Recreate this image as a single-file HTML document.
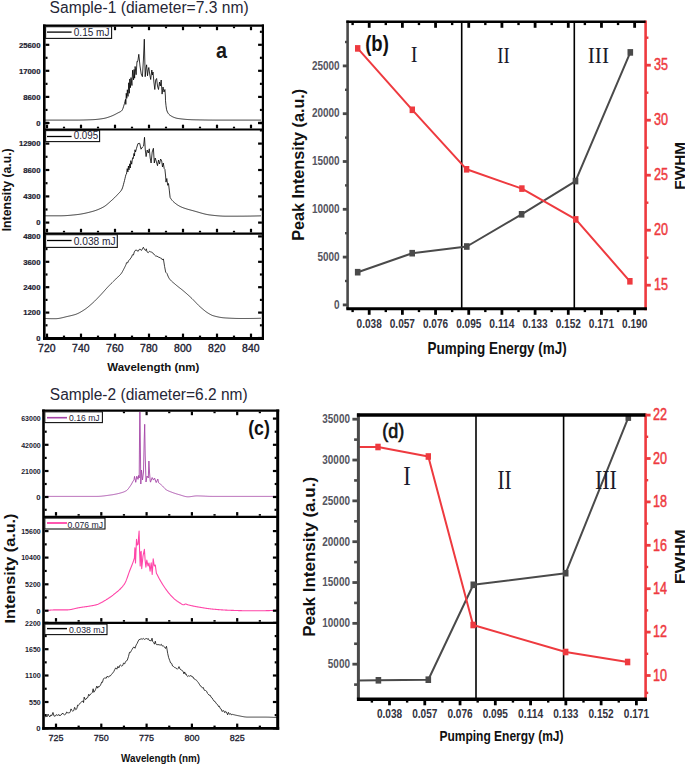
<!DOCTYPE html>
<html><head><meta charset="utf-8"><style>
html,body{margin:0;padding:0;background:#fff;}
body{width:685px;height:764px;overflow:hidden;font-family:"Liberation Sans",sans-serif;}
svg{display:block;}
</style></head><body>
<svg width="685" height="764" viewBox="0 0 685 764">
<rect width="685" height="764" fill="#fff"/>
<defs><clipPath id="ca1"><rect x="45" y="26" width="216" height="102"/></clipPath><clipPath id="ca2"><rect x="45" y="130" width="216" height="102"/></clipPath><clipPath id="ca3"><rect x="45" y="234" width="216" height="103"/></clipPath><clipPath id="cc1"><rect x="45" y="412" width="232" height="104"/></clipPath><clipPath id="cc2"><rect x="45" y="517" width="232" height="105"/></clipPath><clipPath id="cc3"><rect x="45" y="624" width="232" height="103"/></clipPath><clipPath id="cb"><rect x="349" y="23" width="295" height="284"/></clipPath><clipPath id="cd"><rect x="359.5" y="416" width="286" height="281"/></clipPath></defs>
<text x="49.60" y="12.60" font-size="16" fill="#262636" font-weight="normal" text-anchor="start" font-family="Liberation Sans, sans-serif" textLength="199.00" lengthAdjust="spacingAndGlyphs" >Sample-1 (diameter=7.3 nm)</text>
<text x="49.80" y="400.20" font-size="16" fill="#262636" font-weight="normal" text-anchor="start" font-family="Liberation Sans, sans-serif" textLength="197.80" lengthAdjust="spacingAndGlyphs" >Sample-2 (diameter=6.2 nm)</text>
<polyline points="45.00,120.10 45.50,120.10 46.00,120.10 46.50,120.10 47.00,120.10 47.50,120.10 48.00,120.10 48.50,120.10 49.00,120.10 49.50,120.10 50.00,120.10 50.50,120.10 51.00,120.10 51.50,120.10 52.00,120.10 52.50,120.10 53.00,120.10 53.50,120.10 54.00,120.10 54.50,120.10 55.00,120.10 55.50,120.10 56.00,120.10 56.50,120.10 57.00,120.10 57.50,120.10 58.00,120.10 58.50,120.10 59.00,120.10 59.50,120.10 60.00,120.10 60.50,120.10 61.00,120.10 61.50,120.10 62.00,120.10 62.50,120.10 63.00,120.10 63.50,120.10 64.00,120.10 64.50,120.10 65.00,120.10 65.50,120.10 66.00,120.10 66.50,120.10 67.00,120.10 67.50,120.10 68.00,120.10 68.50,120.10 69.00,120.10 69.50,120.10 70.00,120.10 70.50,120.10 71.00,120.10 71.50,120.10 72.00,120.10 72.50,120.10 73.00,120.10 73.50,120.10 74.00,120.10 74.50,120.10 75.00,120.10 75.50,120.10 76.00,120.10 76.50,120.10 77.00,120.10 77.50,120.10 78.00,120.09 78.50,120.09 79.00,120.08 79.50,120.08 80.00,120.07 80.50,120.06 81.00,120.05 81.50,120.04 82.00,120.03 82.50,120.02 83.00,120.01 83.50,120.00 84.00,119.99 84.50,119.97 85.00,119.96 85.50,119.94 86.00,119.93 86.50,119.91 87.00,119.90 87.50,119.88 88.00,119.86 88.50,119.84 89.00,119.83 89.50,119.81 90.00,119.79 90.50,119.77 91.00,119.75 91.50,119.73 92.00,119.71 92.50,119.69 93.00,119.66 93.50,119.63 94.00,119.60 94.50,119.57 95.00,119.53 95.50,119.49 96.00,119.45 96.50,119.40 97.00,119.35 97.50,119.30 98.00,119.25 98.50,119.19 99.00,119.13 99.50,119.07 100.00,119.00 100.50,118.93 101.00,118.87 101.50,118.79 102.00,118.72 102.50,118.64 103.00,118.56 103.50,118.48 104.00,118.39 104.50,118.29 105.00,118.18 105.50,118.06 106.00,117.93 106.50,117.79 107.00,117.64 107.50,117.48 108.00,117.32 108.50,117.15 109.00,116.98 109.50,116.80 110.00,116.62 110.50,116.44 111.00,116.25 111.50,116.06 112.00,115.86 112.50,115.65 113.00,115.43 113.50,115.20 114.00,114.96 114.50,114.71 115.00,114.46 115.50,114.20 116.00,113.93 116.50,113.66 117.00,113.39 117.50,113.12 118.00,112.85 118.50,112.60 119.00,112.37 119.50,112.14 120.00,111.89 120.50,111.61 121.00,111.28 121.50,110.88 122.00,110.39 122.50,109.52 123.00,108.25 123.50,106.73 124.00,105.08 124.50,103.40 125.00,101.35 125.50,99.35 125.80,104.40 126.25,93.27 126.79,98.37 127.35,89.78 128.04,96.40 128.74,82.76 129.31,93.28 129.78,78.98 130.48,87.67 131.01,77.60 131.94,85.50 132.58,70.19 133.56,79.87 134.06,69.46 134.61,78.18 135.12,66.48 136.14,74.73 137.01,61.28 137.50,61.73 138.00,60.00 138.80,54.30 140.00,66.00 141.20,74.00 142.40,76.70 143.40,60.00 144.30,39.20 145.20,76.70 146.00,68.00 146.60,64.80 147.50,75.80 148.20,70.00 148.80,67.50 149.70,74.00 150.70,79.50 151.80,70.00 152.40,75.00 153.00,72.00 153.90,82.00 154.80,89.50 155.70,80.00 156.60,78.50 157.50,86.00 158.50,89.50 159.50,82.00 160.30,86.00 161.20,80.00 162.10,94.10 163.00,87.00 164.00,92.00 164.90,89.50 165.40,96.00 165.50,100.77 166.00,105.70 166.50,109.20 167.00,111.01 167.50,112.14 168.00,113.05 168.50,113.79 169.00,114.38 169.50,114.85 170.00,115.23 170.50,115.57 171.00,115.88 171.50,116.18 172.00,116.46 172.50,116.72 173.00,116.96 173.50,117.19 174.00,117.40 174.50,117.59 175.00,117.76 175.50,117.92 176.00,118.06 176.50,118.19 177.00,118.30 177.50,118.40 178.00,118.49 178.50,118.56 179.00,118.63 179.50,118.70 180.00,118.76 180.50,118.82 181.00,118.89 181.50,118.95 182.00,119.00 182.50,119.06 183.00,119.11 183.50,119.16 184.00,119.21 184.50,119.26 185.00,119.30 185.50,119.35 186.00,119.39 186.50,119.43 187.00,119.46 187.50,119.50 188.00,119.53 188.50,119.57 189.00,119.60 189.50,119.62 190.00,119.65 190.50,119.67 191.00,119.70 191.50,119.72 192.00,119.74 192.50,119.76 193.00,119.77 193.50,119.79 194.00,119.80 194.50,119.81 195.00,119.82 195.50,119.83 196.00,119.84 196.50,119.85 197.00,119.86 197.50,119.87 198.00,119.88 198.50,119.89 199.00,119.90 199.50,119.91 200.00,119.92 200.50,119.93 201.00,119.94 201.50,119.95 202.00,119.96 202.50,119.96 203.00,119.97 203.50,119.98 204.00,119.99 204.50,120.00 205.00,120.00 205.50,120.01 206.00,120.02 206.50,120.02 207.00,120.03 207.50,120.04 208.00,120.04 208.50,120.05 209.00,120.05 209.50,120.06 210.00,120.06 210.50,120.07 211.00,120.07 211.50,120.07 212.00,120.08 212.50,120.08 213.00,120.08 213.50,120.09 214.00,120.09 214.50,120.09 215.00,120.09 215.50,120.10 216.00,120.10 216.50,120.10 217.00,120.10 217.50,120.10 218.00,120.10 218.50,120.10 219.00,120.10 219.50,120.10 220.00,120.10 220.50,120.10 221.00,120.10 221.50,120.10 222.00,120.10 222.50,120.10 223.00,120.10 223.50,120.10 224.00,120.10 224.50,120.10 225.00,120.10 225.50,120.10 226.00,120.10 226.50,120.10 227.00,120.10 227.50,120.10 228.00,120.10 228.50,120.10 229.00,120.10 229.50,120.10 230.00,120.10 230.50,120.10 231.00,120.10 231.50,120.10 232.00,120.10 232.50,120.10 233.00,120.10 233.50,120.10 234.00,120.10 234.50,120.10 235.00,120.10 235.50,120.10 236.00,120.10 236.50,120.10 237.00,120.10 237.50,120.10 238.00,120.10 238.50,120.10 239.00,120.10 239.50,120.10 240.00,120.10 240.50,120.10 241.00,120.10 241.50,120.10 242.00,120.10 242.50,120.10 243.00,120.10 243.50,120.10 244.00,120.10 244.50,120.10 245.00,120.10 245.50,120.10 246.00,120.10 246.50,120.10 247.00,120.10 247.50,120.10 248.00,120.10 248.50,120.10 249.00,120.10 249.50,120.10 250.00,120.10 250.50,120.10 251.00,120.10 251.50,120.10 252.00,120.10 252.50,120.10 253.00,120.10 253.50,120.10 254.00,120.10 254.50,120.10 255.00,120.10 255.50,120.10 256.00,120.10 256.50,120.10 257.00,120.10 257.50,120.10 258.00,120.10 258.50,120.10 259.00,120.10 259.50,120.10 260.00,120.10 260.50,120.10 261.00,120.10 261.50,120.10 262.00,120.10" fill="none" stroke="#000" stroke-width="0.8" stroke-linejoin="round" clip-path="url(#ca1)"/>
<polyline points="45.00,215.80 45.50,215.80 46.00,215.80 46.50,215.80 47.00,215.80 47.50,215.80 48.00,215.80 48.50,215.80 49.00,215.80 49.50,215.80 50.00,215.80 50.50,215.80 51.00,215.80 51.50,215.80 52.00,215.80 52.50,215.80 53.00,215.80 53.50,215.80 54.00,215.80 54.50,215.80 55.00,215.80 55.50,215.80 56.00,215.80 56.50,215.80 57.00,215.80 57.50,215.80 58.00,215.80 58.50,215.80 59.00,215.80 59.50,215.80 60.00,215.80 60.50,215.80 61.00,215.79 61.50,215.79 62.00,215.78 62.50,215.76 63.00,215.75 63.50,215.73 64.00,215.71 64.50,215.69 65.00,215.66 65.50,215.63 66.00,215.60 66.50,215.57 67.00,215.54 67.50,215.50 68.00,215.46 68.50,215.42 69.00,215.38 69.50,215.34 70.00,215.30 70.50,215.25 71.00,215.21 71.50,215.16 72.00,215.11 72.50,215.06 73.00,215.01 73.50,214.96 74.00,214.91 74.50,214.86 75.00,214.81 75.50,214.76 76.00,214.71 76.50,214.66 77.00,214.60 77.50,214.54 78.00,214.48 78.50,214.41 79.00,214.34 79.50,214.27 80.00,214.19 80.50,214.11 81.00,214.03 81.50,213.94 82.00,213.86 82.50,213.76 83.00,213.67 83.50,213.57 84.00,213.47 84.50,213.37 85.00,213.26 85.50,213.16 86.00,213.04 86.50,212.93 87.00,212.82 87.50,212.70 88.00,212.58 88.50,212.46 89.00,212.33 89.50,212.21 90.00,212.08 90.50,211.95 91.00,211.82 91.50,211.69 92.00,211.55 92.50,211.42 93.00,211.28 93.50,211.13 94.00,210.98 94.50,210.82 95.00,210.66 95.50,210.49 96.00,210.31 96.50,210.13 97.00,209.94 97.50,209.75 98.00,209.55 98.50,209.35 99.00,209.14 99.50,208.92 100.00,208.70 100.50,208.47 101.00,208.23 101.50,207.99 102.00,207.74 102.50,207.48 103.00,207.22 103.50,206.94 104.00,206.65 104.50,206.34 105.00,206.00 105.50,205.65 106.00,205.27 106.50,204.88 107.00,204.47 107.50,204.06 108.00,203.63 108.50,203.19 109.00,202.75 109.50,202.30 110.00,201.85 110.50,201.40 111.00,200.96 111.50,200.51 112.00,200.06 112.50,199.61 113.00,199.15 113.50,198.68 114.00,198.21 114.50,197.72 115.00,197.23 115.50,196.73 116.00,196.22 116.50,195.70 117.00,195.17 117.50,194.64 118.00,194.09 118.50,193.57 119.00,193.06 119.50,192.56 120.00,192.02 120.50,191.43 121.00,190.77 121.50,190.00 122.00,189.10 122.50,187.83 123.00,186.19 123.50,184.33 124.00,182.41 124.50,180.54 125.00,178.44 125.50,176.26 126.00,174.27 126.50,174.01 127.23,168.65 127.88,171.97 128.42,166.01 129.01,169.90 129.77,163.81 130.27,168.01 130.79,160.67 131.69,164.22 132.58,157.71 133.29,158.55 133.95,153.46 134.44,156.03 134.98,149.80 135.53,151.95 136.50,148.30 137.90,143.70 139.70,143.30 141.00,149.20 142.50,147.00 143.60,146.00 144.50,137.30 145.30,150.00 146.10,156.60 147.20,150.00 148.30,153.00 149.30,148.80 150.20,158.00 151.10,163.00 152.20,152.00 153.40,148.30 154.30,163.00 155.20,158.00 156.20,161.00 157.50,165.70 158.50,160.00 159.50,164.00 160.60,159.00 161.70,161.00 162.50,167.00 163.30,163.00 164.20,168.50 164.90,169.40 165.60,176.00 166.00,182.10 166.80,178.50 167.70,185.30 168.50,183.50 169.30,190.10 170.10,197.40 170.50,198.09 171.00,198.87 171.50,199.58 172.00,200.21 172.50,200.79 173.00,201.31 173.50,201.79 174.00,202.24 174.50,202.67 175.00,203.08 175.50,203.48 176.00,203.87 176.50,204.24 177.00,204.59 177.50,204.93 178.00,205.25 178.50,205.56 179.00,205.85 179.50,206.13 180.00,206.39 180.50,206.64 181.00,206.87 181.50,207.09 182.00,207.30 182.50,207.50 183.00,207.69 183.50,207.88 184.00,208.06 184.50,208.24 185.00,208.41 185.50,208.57 186.00,208.73 186.50,208.89 187.00,209.04 187.50,209.19 188.00,209.33 188.50,209.48 189.00,209.62 189.50,209.75 190.00,209.89 190.50,210.03 191.00,210.16 191.50,210.30 192.00,210.43 192.50,210.56 193.00,210.70 193.50,210.83 194.00,210.97 194.50,211.11 195.00,211.25 195.50,211.40 196.00,211.54 196.50,211.69 197.00,211.84 197.50,211.98 198.00,212.13 198.50,212.28 199.00,212.43 199.50,212.57 200.00,212.72 200.50,212.86 201.00,213.01 201.50,213.15 202.00,213.29 202.50,213.42 203.00,213.56 203.50,213.69 204.00,213.82 204.50,213.94 205.00,214.06 205.50,214.18 206.00,214.29 206.50,214.39 207.00,214.49 207.50,214.59 208.00,214.68 208.50,214.76 209.00,214.84 209.50,214.91 210.00,214.98 210.50,215.03 211.00,215.09 211.50,215.15 212.00,215.20 212.50,215.26 213.00,215.32 213.50,215.37 214.00,215.42 214.50,215.48 215.00,215.53 215.50,215.58 216.00,215.63 216.50,215.68 217.00,215.72 217.50,215.77 218.00,215.81 218.50,215.85 219.00,215.89 219.50,215.93 220.00,215.96 220.50,216.00 221.00,216.03 221.50,216.06 222.00,216.09 222.50,216.11 223.00,216.13 223.50,216.15 224.00,216.17 224.50,216.18 225.00,216.19 225.50,216.20 226.00,216.20 226.50,216.20 227.00,216.20 227.50,216.20 228.00,216.20 228.50,216.20 229.00,216.20 229.50,216.20 230.00,216.20 230.50,216.20 231.00,216.20 231.50,216.20 232.00,216.20 232.50,216.20 233.00,216.20 233.50,216.20 234.00,216.20 234.50,216.20 235.00,216.19 235.50,216.19 236.00,216.19 236.50,216.19 237.00,216.19 237.50,216.19 238.00,216.19 238.50,216.18 239.00,216.18 239.50,216.18 240.00,216.18 240.50,216.17 241.00,216.17 241.50,216.17 242.00,216.17 242.50,216.16 243.00,216.16 243.50,216.16 244.00,216.15 244.50,216.15 245.00,216.14 245.50,216.14 246.00,216.13 246.50,216.13 247.00,216.12 247.50,216.12 248.00,216.11 248.50,216.10 249.00,216.10 249.50,216.09 250.00,216.08 250.50,216.08 251.00,216.07 251.50,216.06 252.00,216.05 252.50,216.04 253.00,216.03 253.50,216.02 254.00,216.01 254.50,216.00 255.00,215.99 255.50,215.98 256.00,215.97 256.50,215.96 257.00,215.95 257.50,215.93 258.00,215.92 258.50,215.91 259.00,215.89 259.50,215.88 260.00,215.86 260.50,215.85 261.00,215.83 261.50,215.82 262.00,215.80" fill="none" stroke="#000" stroke-width="0.8" stroke-linejoin="round" clip-path="url(#ca2)"/>
<polyline points="45.00,318.40 45.50,318.44 46.00,318.48 46.50,318.51 47.00,318.54 47.50,318.57 48.00,318.59 48.50,318.61 49.00,318.63 49.50,318.65 50.00,318.66 50.50,318.67 51.00,318.68 51.50,318.69 52.00,318.69 52.50,318.69 53.00,318.70 53.50,318.70 54.00,318.70 54.50,318.70 55.00,318.70 55.50,318.70 56.00,318.68 56.50,318.66 57.00,318.62 57.50,318.57 58.00,318.51 58.50,318.45 59.00,318.37 59.50,318.29 60.00,318.20 60.50,318.10 61.00,318.00 61.50,317.89 62.00,317.78 62.50,317.66 63.00,317.54 63.50,317.42 64.00,317.29 64.50,317.17 65.00,317.04 65.50,316.92 66.00,316.79 66.50,316.67 67.00,316.55 67.50,316.44 68.00,316.32 68.50,316.21 69.00,316.10 69.50,315.99 70.00,315.88 70.50,315.76 71.00,315.65 71.50,315.53 72.00,315.41 72.50,315.28 73.00,315.15 73.50,315.01 74.00,314.87 74.50,314.72 75.00,314.57 75.50,314.41 76.00,314.24 76.50,314.05 77.00,313.86 77.50,313.64 78.00,313.42 78.50,313.18 79.00,312.93 79.50,312.67 80.00,312.40 80.50,312.12 81.00,311.83 81.50,311.53 82.00,311.22 82.50,310.92 83.00,310.60 83.50,310.28 84.00,309.96 84.50,309.64 85.00,309.30 85.50,308.95 86.00,308.58 86.50,308.21 87.00,307.82 87.50,307.43 88.00,307.02 88.50,306.61 89.00,306.19 89.50,305.77 90.00,305.34 90.50,304.90 91.00,304.46 91.50,304.02 92.00,303.58 92.50,303.13 93.00,302.67 93.50,302.21 94.00,301.73 94.50,301.25 95.00,300.76 95.50,300.26 96.00,299.76 96.50,299.25 97.00,298.74 97.50,298.22 98.00,297.70 98.50,297.18 99.00,296.66 99.50,296.13 100.00,295.61 100.50,295.08 101.00,294.55 101.50,294.01 102.00,293.46 102.50,292.91 103.00,292.35 103.50,291.79 104.00,291.23 104.50,290.66 105.00,290.10 105.50,289.54 106.00,288.98 106.50,288.43 107.00,287.88 107.50,287.34 108.00,286.81 108.50,286.29 109.00,285.77 109.50,285.26 110.00,284.75 110.50,284.24 111.00,283.74 111.50,283.24 112.00,282.75 112.50,282.25 113.00,281.76 113.50,281.27 114.00,280.78 114.50,280.29 115.00,279.79 115.50,279.30 116.00,278.80 116.50,278.30 117.00,277.83 117.50,277.37 118.00,276.92 118.50,276.46 119.00,276.00 119.50,275.51 120.00,274.99 120.50,274.44 121.00,273.83 121.50,273.14 122.00,272.36 122.50,271.49 123.00,270.57 123.50,269.62 124.00,268.67 124.50,267.71 125.00,266.68 125.50,265.60 126.00,264.55 126.50,262.70 127.81,262.75 128.51,260.64 129.63,259.80 130.78,258.08 131.58,257.02 132.41,254.78 133.45,255.03 134.29,251.91 135.67,250.02 136.99,250.35 138.12,251.40 139.01,249.89 139.82,248.90 140.79,250.08 141.61,250.33 142.37,248.96 143.36,247.23 144.53,249.57 145.43,250.52 146.30,248.80 146.95,251.77 148.32,252.65 149.50,251.22 150.58,251.85 151.28,251.97 152.03,252.51 153.20,253.24 154.54,255.05 155.81,256.12 156.94,256.09 157.99,256.84 158.74,257.24 160.02,257.63 160.69,258.13 161.68,258.44 162.45,260.03 163.39,258.92 164.57,266.40 165.69,272.20 167.00,273.52 167.50,274.82 168.00,276.09 168.50,277.22 169.00,278.15 169.50,278.86 170.00,279.50 170.50,280.09 171.00,280.62 171.50,281.12 172.00,281.58 172.50,282.01 173.00,282.43 173.50,282.84 174.00,283.25 174.50,283.67 175.00,284.10 175.50,284.54 176.00,284.97 176.50,285.39 177.00,285.80 177.50,286.20 178.00,286.60 178.50,286.99 179.00,287.38 179.50,287.77 180.00,288.15 180.50,288.54 181.00,288.93 181.50,289.33 182.00,289.73 182.50,290.13 183.00,290.55 183.50,290.97 184.00,291.40 184.50,291.82 185.00,292.25 185.50,292.68 186.00,293.12 186.50,293.56 187.00,294.00 187.50,294.44 188.00,294.89 188.50,295.34 189.00,295.79 189.50,296.24 190.00,296.70 190.50,297.17 191.00,297.63 191.50,298.11 192.00,298.58 192.50,299.08 193.00,299.58 193.50,300.09 194.00,300.61 194.50,301.14 195.00,301.66 195.50,302.19 196.00,302.72 196.50,303.25 197.00,303.77 197.50,304.29 198.00,304.79 198.50,305.29 199.00,305.77 199.50,306.24 200.00,306.69 200.50,307.13 201.00,307.58 201.50,308.02 202.00,308.46 202.50,308.89 203.00,309.32 203.50,309.74 204.00,310.16 204.50,310.56 205.00,310.96 205.50,311.35 206.00,311.72 206.50,312.08 207.00,312.43 207.50,312.76 208.00,313.08 208.50,313.38 209.00,313.68 209.50,313.98 210.00,314.26 210.50,314.54 211.00,314.80 211.50,315.04 212.00,315.27 212.50,315.47 213.00,315.64 213.50,315.79 214.00,315.93 214.50,316.07 215.00,316.20 215.50,316.33 216.00,316.46 216.50,316.58 217.00,316.70 217.50,316.81 218.00,316.92 218.50,317.02 219.00,317.12 219.50,317.22 220.00,317.31 220.50,317.39 221.00,317.47 221.50,317.55 222.00,317.62 222.50,317.68 223.00,317.74 223.50,317.79 224.00,317.83 224.50,317.87 225.00,317.91 225.50,317.94 226.00,317.97 226.50,318.00 227.00,318.03 227.50,318.06 228.00,318.08 228.50,318.11 229.00,318.14 229.50,318.16 230.00,318.19 230.50,318.21 231.00,318.24 231.50,318.26 232.00,318.28 232.50,318.30 233.00,318.32 233.50,318.34 234.00,318.36 234.50,318.38 235.00,318.39 235.50,318.41 236.00,318.42 236.50,318.44 237.00,318.45 237.50,318.46 238.00,318.47 238.50,318.48 239.00,318.48 239.50,318.49 240.00,318.49 240.50,318.50 241.00,318.50 241.50,318.50 242.00,318.50 242.50,318.50 243.00,318.50 243.50,318.50 244.00,318.50 244.50,318.50 245.00,318.50 245.50,318.50 246.00,318.50 246.50,318.49 247.00,318.49 247.50,318.49 248.00,318.49 248.50,318.49 249.00,318.48 249.50,318.48 250.00,318.48 250.50,318.47 251.00,318.47 251.50,318.46 252.00,318.46 252.50,318.45 253.00,318.44 253.50,318.44 254.00,318.43 254.50,318.42 255.00,318.41 255.50,318.40 256.00,318.39 256.50,318.38 257.00,318.37 257.50,318.35 258.00,318.34 258.50,318.33 259.00,318.31 259.50,318.29 260.00,318.28 260.50,318.26 261.00,318.24 261.50,318.22 262.00,318.20" fill="none" stroke="#000" stroke-width="0.75" stroke-linejoin="round" clip-path="url(#ca3)"/>
<line x1="44.30" y1="24.40" x2="44.30" y2="339.90" stroke="#000" stroke-width="2.6" />
<line x1="262.90" y1="24.40" x2="262.90" y2="339.90" stroke="#000" stroke-width="2.2" />
<line x1="43.00" y1="25.60" x2="264.00" y2="25.60" stroke="#000" stroke-width="2.3" />
<line x1="43.00" y1="338.40" x2="264.00" y2="338.40" stroke="#000" stroke-width="3.0" />
<line x1="44.30" y1="129.50" x2="262.90" y2="129.50" stroke="#000" stroke-width="2.2" />
<line x1="44.30" y1="233.60" x2="262.90" y2="233.60" stroke="#000" stroke-width="2.2" />
<line x1="47.00" y1="26.60" x2="47.00" y2="30.20" stroke="#000" stroke-width="2.2" />
<line x1="47.00" y1="128.30" x2="47.00" y2="124.70" stroke="#000" stroke-width="2.2" />
<line x1="81.00" y1="26.60" x2="81.00" y2="30.20" stroke="#000" stroke-width="2.2" />
<line x1="81.00" y1="128.30" x2="81.00" y2="124.70" stroke="#000" stroke-width="2.2" />
<line x1="115.00" y1="26.60" x2="115.00" y2="30.20" stroke="#000" stroke-width="2.2" />
<line x1="115.00" y1="128.30" x2="115.00" y2="124.70" stroke="#000" stroke-width="2.2" />
<line x1="149.00" y1="26.60" x2="149.00" y2="30.20" stroke="#000" stroke-width="2.2" />
<line x1="149.00" y1="128.30" x2="149.00" y2="124.70" stroke="#000" stroke-width="2.2" />
<line x1="183.00" y1="26.60" x2="183.00" y2="30.20" stroke="#000" stroke-width="2.2" />
<line x1="183.00" y1="128.30" x2="183.00" y2="124.70" stroke="#000" stroke-width="2.2" />
<line x1="217.00" y1="26.60" x2="217.00" y2="30.20" stroke="#000" stroke-width="2.2" />
<line x1="217.00" y1="128.30" x2="217.00" y2="124.70" stroke="#000" stroke-width="2.2" />
<line x1="251.00" y1="26.60" x2="251.00" y2="30.20" stroke="#000" stroke-width="2.2" />
<line x1="251.00" y1="128.30" x2="251.00" y2="124.70" stroke="#000" stroke-width="2.2" />
<line x1="64.00" y1="26.60" x2="64.00" y2="28.20" stroke="#000" stroke-width="2.2" />
<line x1="64.00" y1="128.30" x2="64.00" y2="126.70" stroke="#000" stroke-width="2.2" />
<line x1="98.00" y1="26.60" x2="98.00" y2="28.20" stroke="#000" stroke-width="2.2" />
<line x1="98.00" y1="128.30" x2="98.00" y2="126.70" stroke="#000" stroke-width="2.2" />
<line x1="132.00" y1="26.60" x2="132.00" y2="28.20" stroke="#000" stroke-width="2.2" />
<line x1="132.00" y1="128.30" x2="132.00" y2="126.70" stroke="#000" stroke-width="2.2" />
<line x1="166.00" y1="26.60" x2="166.00" y2="28.20" stroke="#000" stroke-width="2.2" />
<line x1="166.00" y1="128.30" x2="166.00" y2="126.70" stroke="#000" stroke-width="2.2" />
<line x1="200.00" y1="26.60" x2="200.00" y2="28.20" stroke="#000" stroke-width="2.2" />
<line x1="200.00" y1="128.30" x2="200.00" y2="126.70" stroke="#000" stroke-width="2.2" />
<line x1="234.00" y1="26.60" x2="234.00" y2="28.20" stroke="#000" stroke-width="2.2" />
<line x1="234.00" y1="128.30" x2="234.00" y2="126.70" stroke="#000" stroke-width="2.2" />
<line x1="47.00" y1="232.40" x2="47.00" y2="228.80" stroke="#000" stroke-width="2.2" />
<line x1="81.00" y1="232.40" x2="81.00" y2="228.80" stroke="#000" stroke-width="2.2" />
<line x1="115.00" y1="232.40" x2="115.00" y2="228.80" stroke="#000" stroke-width="2.2" />
<line x1="149.00" y1="232.40" x2="149.00" y2="228.80" stroke="#000" stroke-width="2.2" />
<line x1="183.00" y1="232.40" x2="183.00" y2="228.80" stroke="#000" stroke-width="2.2" />
<line x1="217.00" y1="232.40" x2="217.00" y2="228.80" stroke="#000" stroke-width="2.2" />
<line x1="251.00" y1="232.40" x2="251.00" y2="228.80" stroke="#000" stroke-width="2.2" />
<line x1="64.00" y1="232.40" x2="64.00" y2="230.80" stroke="#000" stroke-width="2.2" />
<line x1="98.00" y1="232.40" x2="98.00" y2="230.80" stroke="#000" stroke-width="2.2" />
<line x1="132.00" y1="232.40" x2="132.00" y2="230.80" stroke="#000" stroke-width="2.2" />
<line x1="166.00" y1="232.40" x2="166.00" y2="230.80" stroke="#000" stroke-width="2.2" />
<line x1="200.00" y1="232.40" x2="200.00" y2="230.80" stroke="#000" stroke-width="2.2" />
<line x1="234.00" y1="232.40" x2="234.00" y2="230.80" stroke="#000" stroke-width="2.2" />
<line x1="47.00" y1="337.20" x2="47.00" y2="333.60" stroke="#000" stroke-width="2.2" />
<line x1="81.00" y1="337.20" x2="81.00" y2="333.60" stroke="#000" stroke-width="2.2" />
<line x1="115.00" y1="337.20" x2="115.00" y2="333.60" stroke="#000" stroke-width="2.2" />
<line x1="149.00" y1="337.20" x2="149.00" y2="333.60" stroke="#000" stroke-width="2.2" />
<line x1="183.00" y1="337.20" x2="183.00" y2="333.60" stroke="#000" stroke-width="2.2" />
<line x1="217.00" y1="337.20" x2="217.00" y2="333.60" stroke="#000" stroke-width="2.2" />
<line x1="251.00" y1="337.20" x2="251.00" y2="333.60" stroke="#000" stroke-width="2.2" />
<line x1="64.00" y1="337.20" x2="64.00" y2="335.60" stroke="#000" stroke-width="2.2" />
<line x1="98.00" y1="337.20" x2="98.00" y2="335.60" stroke="#000" stroke-width="2.2" />
<line x1="132.00" y1="337.20" x2="132.00" y2="335.60" stroke="#000" stroke-width="2.2" />
<line x1="166.00" y1="337.20" x2="166.00" y2="335.60" stroke="#000" stroke-width="2.2" />
<line x1="200.00" y1="337.20" x2="200.00" y2="335.60" stroke="#000" stroke-width="2.2" />
<line x1="234.00" y1="337.20" x2="234.00" y2="335.60" stroke="#000" stroke-width="2.2" />
<line x1="45.50" y1="44.80" x2="49.30" y2="44.80" stroke="#000" stroke-width="2.2" />
<line x1="261.90" y1="44.80" x2="258.10" y2="44.80" stroke="#000" stroke-width="2.2" />
<line x1="45.50" y1="70.80" x2="49.30" y2="70.80" stroke="#000" stroke-width="2.2" />
<line x1="261.90" y1="70.80" x2="258.10" y2="70.80" stroke="#000" stroke-width="2.2" />
<line x1="45.50" y1="96.90" x2="49.30" y2="96.90" stroke="#000" stroke-width="2.2" />
<line x1="261.90" y1="96.90" x2="258.10" y2="96.90" stroke="#000" stroke-width="2.2" />
<line x1="45.50" y1="123.00" x2="49.30" y2="123.00" stroke="#000" stroke-width="2.2" />
<line x1="261.90" y1="123.00" x2="258.10" y2="123.00" stroke="#000" stroke-width="2.2" />
<line x1="45.50" y1="123.00" x2="49.30" y2="123.00" stroke="#000" stroke-width="2.2" />
<line x1="261.90" y1="123.00" x2="258.10" y2="123.00" stroke="#000" stroke-width="2.2" />
<line x1="45.50" y1="57.80" x2="47.50" y2="57.80" stroke="#000" stroke-width="2.2" />
<line x1="261.90" y1="57.80" x2="259.90" y2="57.80" stroke="#000" stroke-width="2.2" />
<line x1="45.50" y1="83.85" x2="47.50" y2="83.85" stroke="#000" stroke-width="2.2" />
<line x1="261.90" y1="83.85" x2="259.90" y2="83.85" stroke="#000" stroke-width="2.2" />
<line x1="45.50" y1="109.95" x2="47.50" y2="109.95" stroke="#000" stroke-width="2.2" />
<line x1="261.90" y1="109.95" x2="259.90" y2="109.95" stroke="#000" stroke-width="2.2" />
<line x1="45.50" y1="123.00" x2="47.50" y2="123.00" stroke="#000" stroke-width="2.2" />
<line x1="261.90" y1="123.00" x2="259.90" y2="123.00" stroke="#000" stroke-width="2.2" />
<line x1="45.50" y1="143.60" x2="49.30" y2="143.60" stroke="#000" stroke-width="2.2" />
<line x1="261.90" y1="143.60" x2="258.10" y2="143.60" stroke="#000" stroke-width="2.2" />
<line x1="45.50" y1="170.00" x2="49.30" y2="170.00" stroke="#000" stroke-width="2.2" />
<line x1="261.90" y1="170.00" x2="258.10" y2="170.00" stroke="#000" stroke-width="2.2" />
<line x1="45.50" y1="196.40" x2="49.30" y2="196.40" stroke="#000" stroke-width="2.2" />
<line x1="261.90" y1="196.40" x2="258.10" y2="196.40" stroke="#000" stroke-width="2.2" />
<line x1="45.50" y1="222.60" x2="49.30" y2="222.60" stroke="#000" stroke-width="2.2" />
<line x1="261.90" y1="222.60" x2="258.10" y2="222.60" stroke="#000" stroke-width="2.2" />
<line x1="45.50" y1="156.80" x2="47.50" y2="156.80" stroke="#000" stroke-width="2.2" />
<line x1="261.90" y1="156.80" x2="259.90" y2="156.80" stroke="#000" stroke-width="2.2" />
<line x1="45.50" y1="183.20" x2="47.50" y2="183.20" stroke="#000" stroke-width="2.2" />
<line x1="261.90" y1="183.20" x2="259.90" y2="183.20" stroke="#000" stroke-width="2.2" />
<line x1="45.50" y1="209.50" x2="47.50" y2="209.50" stroke="#000" stroke-width="2.2" />
<line x1="261.90" y1="209.50" x2="259.90" y2="209.50" stroke="#000" stroke-width="2.2" />
<line x1="45.50" y1="236.40" x2="49.30" y2="236.40" stroke="#000" stroke-width="2.2" />
<line x1="261.90" y1="236.40" x2="258.10" y2="236.40" stroke="#000" stroke-width="2.2" />
<line x1="45.50" y1="261.80" x2="49.30" y2="261.80" stroke="#000" stroke-width="2.2" />
<line x1="261.90" y1="261.80" x2="258.10" y2="261.80" stroke="#000" stroke-width="2.2" />
<line x1="45.50" y1="287.20" x2="49.30" y2="287.20" stroke="#000" stroke-width="2.2" />
<line x1="261.90" y1="287.20" x2="258.10" y2="287.20" stroke="#000" stroke-width="2.2" />
<line x1="45.50" y1="312.60" x2="49.30" y2="312.60" stroke="#000" stroke-width="2.2" />
<line x1="261.90" y1="312.60" x2="258.10" y2="312.60" stroke="#000" stroke-width="2.2" />
<line x1="45.50" y1="338.00" x2="49.30" y2="338.00" stroke="#000" stroke-width="2.2" />
<line x1="261.90" y1="338.00" x2="258.10" y2="338.00" stroke="#000" stroke-width="2.2" />
<line x1="45.50" y1="249.10" x2="47.50" y2="249.10" stroke="#000" stroke-width="2.2" />
<line x1="261.90" y1="249.10" x2="259.90" y2="249.10" stroke="#000" stroke-width="2.2" />
<line x1="45.50" y1="274.50" x2="47.50" y2="274.50" stroke="#000" stroke-width="2.2" />
<line x1="261.90" y1="274.50" x2="259.90" y2="274.50" stroke="#000" stroke-width="2.2" />
<line x1="45.50" y1="299.90" x2="47.50" y2="299.90" stroke="#000" stroke-width="2.2" />
<line x1="261.90" y1="299.90" x2="259.90" y2="299.90" stroke="#000" stroke-width="2.2" />
<line x1="45.50" y1="325.30" x2="47.50" y2="325.30" stroke="#000" stroke-width="2.2" />
<line x1="261.90" y1="325.30" x2="259.90" y2="325.30" stroke="#000" stroke-width="2.2" />
<line x1="45.30" y1="31.80" x2="47.50" y2="31.80" stroke="#000" stroke-width="2.2" />
<line x1="261.90" y1="31.80" x2="259.90" y2="31.80" stroke="#000" stroke-width="2.2" />
<line x1="45.30" y1="130.40" x2="47.50" y2="130.40" stroke="#000" stroke-width="2.2" />
<line x1="261.90" y1="130.40" x2="259.90" y2="130.40" stroke="#000" stroke-width="2.2" />
<text x="40.50" y="47.50" font-size="7.6" fill="#1c1c30" font-weight="bold" text-anchor="end" font-family="Liberation Sans, sans-serif" textLength="21.60" lengthAdjust="spacingAndGlyphs" stroke="#1c1c30" stroke-width="0.2">25600</text>
<text x="40.50" y="73.50" font-size="7.6" fill="#1c1c30" font-weight="bold" text-anchor="end" font-family="Liberation Sans, sans-serif" textLength="21.60" lengthAdjust="spacingAndGlyphs" stroke="#1c1c30" stroke-width="0.2">17000</text>
<text x="40.50" y="99.60" font-size="7.6" fill="#1c1c30" font-weight="bold" text-anchor="end" font-family="Liberation Sans, sans-serif" textLength="17.30" lengthAdjust="spacingAndGlyphs" stroke="#1c1c30" stroke-width="0.2">8600</text>
<text x="40.50" y="125.70" font-size="7.6" fill="#1c1c30" font-weight="bold" text-anchor="end" font-family="Liberation Sans, sans-serif" stroke="#1c1c30" stroke-width="0.2">0</text>
<text x="40.50" y="146.30" font-size="7.6" fill="#1c1c30" font-weight="bold" text-anchor="end" font-family="Liberation Sans, sans-serif" textLength="21.60" lengthAdjust="spacingAndGlyphs" stroke="#1c1c30" stroke-width="0.2">12900</text>
<text x="40.50" y="172.70" font-size="7.6" fill="#1c1c30" font-weight="bold" text-anchor="end" font-family="Liberation Sans, sans-serif" textLength="17.30" lengthAdjust="spacingAndGlyphs" stroke="#1c1c30" stroke-width="0.2">8600</text>
<text x="40.50" y="199.10" font-size="7.6" fill="#1c1c30" font-weight="bold" text-anchor="end" font-family="Liberation Sans, sans-serif" textLength="17.30" lengthAdjust="spacingAndGlyphs" stroke="#1c1c30" stroke-width="0.2">4300</text>
<text x="40.50" y="225.30" font-size="7.6" fill="#1c1c30" font-weight="bold" text-anchor="end" font-family="Liberation Sans, sans-serif" stroke="#1c1c30" stroke-width="0.2">0</text>
<text x="40.50" y="239.10" font-size="7.6" fill="#1c1c30" font-weight="bold" text-anchor="end" font-family="Liberation Sans, sans-serif" textLength="17.30" lengthAdjust="spacingAndGlyphs" stroke="#1c1c30" stroke-width="0.2">4800</text>
<text x="40.50" y="264.50" font-size="7.6" fill="#1c1c30" font-weight="bold" text-anchor="end" font-family="Liberation Sans, sans-serif" textLength="17.30" lengthAdjust="spacingAndGlyphs" stroke="#1c1c30" stroke-width="0.2">3600</text>
<text x="40.50" y="289.90" font-size="7.6" fill="#1c1c30" font-weight="bold" text-anchor="end" font-family="Liberation Sans, sans-serif" textLength="17.30" lengthAdjust="spacingAndGlyphs" stroke="#1c1c30" stroke-width="0.2">2400</text>
<text x="40.50" y="315.30" font-size="7.6" fill="#1c1c30" font-weight="bold" text-anchor="end" font-family="Liberation Sans, sans-serif" textLength="17.30" lengthAdjust="spacingAndGlyphs" stroke="#1c1c30" stroke-width="0.2">1200</text>
<text x="40.50" y="340.70" font-size="7.6" fill="#1c1c30" font-weight="bold" text-anchor="end" font-family="Liberation Sans, sans-serif" stroke="#1c1c30" stroke-width="0.2">0</text>
<text x="46.80" y="351.70" font-size="10.3" fill="#202030" font-weight="normal" text-anchor="middle" font-family="Liberation Sans, sans-serif" textLength="17.40" lengthAdjust="spacingAndGlyphs" stroke="#202030" stroke-width="0.35">720</text>
<text x="80.80" y="351.70" font-size="10.3" fill="#202030" font-weight="normal" text-anchor="middle" font-family="Liberation Sans, sans-serif" textLength="17.40" lengthAdjust="spacingAndGlyphs" stroke="#202030" stroke-width="0.35">740</text>
<text x="114.80" y="351.70" font-size="10.3" fill="#202030" font-weight="normal" text-anchor="middle" font-family="Liberation Sans, sans-serif" textLength="17.40" lengthAdjust="spacingAndGlyphs" stroke="#202030" stroke-width="0.35">760</text>
<text x="148.80" y="351.70" font-size="10.3" fill="#202030" font-weight="normal" text-anchor="middle" font-family="Liberation Sans, sans-serif" textLength="17.40" lengthAdjust="spacingAndGlyphs" stroke="#202030" stroke-width="0.35">780</text>
<text x="182.80" y="351.70" font-size="10.3" fill="#202030" font-weight="normal" text-anchor="middle" font-family="Liberation Sans, sans-serif" textLength="17.40" lengthAdjust="spacingAndGlyphs" stroke="#202030" stroke-width="0.35">800</text>
<text x="216.80" y="351.70" font-size="10.3" fill="#202030" font-weight="normal" text-anchor="middle" font-family="Liberation Sans, sans-serif" textLength="17.40" lengthAdjust="spacingAndGlyphs" stroke="#202030" stroke-width="0.35">820</text>
<text x="250.80" y="351.70" font-size="10.3" fill="#202030" font-weight="normal" text-anchor="middle" font-family="Liberation Sans, sans-serif" textLength="17.40" lengthAdjust="spacingAndGlyphs" stroke="#202030" stroke-width="0.35">840</text>
<text x="153.30" y="370.50" font-size="11.2" fill="#111" font-weight="bold" text-anchor="middle" font-family="Liberation Sans, sans-serif" textLength="92.00" lengthAdjust="spacingAndGlyphs" >Wavelength (nm)</text>
<text transform="translate(11.30,189.80) rotate(-90)" x="0" y="0" font-size="12.8" fill="#111" font-weight="bold" text-anchor="middle" font-family="Liberation Sans, sans-serif" textLength="83.00" lengthAdjust="spacingAndGlyphs">Intensity (a.u.)</text>
<rect x="45.60" y="26.70" width="66.00" height="11.70" fill="#fff" stroke="#111" stroke-width="1.1" />
<line x1="47.00" y1="32.10" x2="71.60" y2="32.10" stroke="#000" stroke-width="1.3" />
<text x="73.80" y="35.80" font-size="10" fill="#1e1e38" font-weight="normal" text-anchor="start" font-family="Liberation Sans, sans-serif" textLength="35.60" lengthAdjust="spacingAndGlyphs" >0.15 mJ</text>
<rect x="45.60" y="130.60" width="54.00" height="11.00" fill="#fff" stroke="#111" stroke-width="1.1" />
<line x1="47.00" y1="136.50" x2="71.60" y2="136.50" stroke="#000" stroke-width="1.3" />
<text x="73.70" y="139.00" font-size="10" fill="#1e1e38" font-weight="normal" text-anchor="start" font-family="Liberation Sans, sans-serif" textLength="24.50" lengthAdjust="spacingAndGlyphs" >0.095</text>
<rect x="45.60" y="234.70" width="71.70" height="12.70" fill="#fff" stroke="#111" stroke-width="1.1" />
<line x1="47.00" y1="240.50" x2="71.60" y2="240.50" stroke="#000" stroke-width="1.3" />
<text x="73.70" y="244.80" font-size="10" fill="#1e1e38" font-weight="normal" text-anchor="start" font-family="Liberation Sans, sans-serif" textLength="42.00" lengthAdjust="spacingAndGlyphs" >0.038 mJ</text>
<text x="221.50" y="57.80" font-size="21.5" fill="#1a1a1a" font-weight="bold" text-anchor="middle" font-family="Liberation Sans, sans-serif" textLength="11.00" lengthAdjust="spacingAndGlyphs" >a</text>
<polyline points="45.00,496.40 45.50,496.40 46.00,496.40 46.50,496.40 47.00,496.40 47.50,496.40 48.00,496.40 48.50,496.40 49.00,496.40 49.50,496.40 50.00,496.40 50.50,496.40 51.00,496.40 51.50,496.40 52.00,496.40 52.50,496.40 53.00,496.40 53.50,496.40 54.00,496.40 54.50,496.40 55.00,496.40 55.50,496.40 56.00,496.40 56.50,496.40 57.00,496.40 57.50,496.40 58.00,496.40 58.50,496.40 59.00,496.40 59.50,496.40 60.00,496.40 60.50,496.40 61.00,496.40 61.50,496.40 62.00,496.40 62.50,496.40 63.00,496.40 63.50,496.40 64.00,496.40 64.50,496.40 65.00,496.40 65.50,496.40 66.00,496.40 66.50,496.40 67.00,496.40 67.50,496.40 68.00,496.40 68.50,496.40 69.00,496.40 69.50,496.40 70.00,496.40 70.50,496.40 71.00,496.40 71.50,496.40 72.00,496.40 72.50,496.40 73.00,496.40 73.50,496.40 74.00,496.40 74.50,496.40 75.00,496.40 75.50,496.40 76.00,496.40 76.50,496.40 77.00,496.40 77.50,496.40 78.00,496.40 78.50,496.40 79.00,496.40 79.50,496.40 80.00,496.40 80.50,496.40 81.00,496.40 81.50,496.40 82.00,496.40 82.50,496.40 83.00,496.40 83.50,496.40 84.00,496.40 84.50,496.40 85.00,496.40 85.50,496.40 86.00,496.40 86.50,496.40 87.00,496.40 87.50,496.40 88.00,496.40 88.50,496.40 89.00,496.40 89.50,496.40 90.00,496.40 90.50,496.40 91.00,496.40 91.50,496.40 92.00,496.40 92.50,496.40 93.00,496.40 93.50,496.40 94.00,496.40 94.50,496.40 95.00,496.40 95.50,496.40 96.00,496.40 96.50,496.40 97.00,496.40 97.50,496.39 98.00,496.38 98.50,496.36 99.00,496.34 99.50,496.31 100.00,496.28 100.50,496.24 101.00,496.20 101.50,496.16 102.00,496.11 102.50,496.06 103.00,496.01 103.50,495.95 104.00,495.89 104.50,495.83 105.00,495.77 105.50,495.70 106.00,495.64 106.50,495.57 107.00,495.50 107.50,495.43 108.00,495.36 108.50,495.29 109.00,495.22 109.50,495.15 110.00,495.08 110.50,495.01 111.00,494.94 111.50,494.87 112.00,494.80 112.50,494.72 113.00,494.64 113.50,494.55 114.00,494.46 114.50,494.37 115.00,494.27 115.50,494.17 116.00,494.07 116.50,493.97 117.00,493.86 117.50,493.74 118.00,493.62 118.50,493.50 119.00,493.38 119.50,493.25 120.00,493.12 120.50,492.98 121.00,492.85 121.50,492.70 122.00,492.55 122.50,492.39 123.00,492.22 123.50,492.04 124.00,491.84 124.50,491.63 125.00,491.39 125.50,491.14 126.00,490.87 126.50,490.57 127.00,490.18 127.50,489.69 128.00,489.12 128.50,488.49 129.00,487.81 129.50,487.11 130.00,486.39 130.50,485.68 131.00,484.95 131.50,484.09 132.00,483.15 132.50,482.18 133.00,481.27 133.50,480.47 134.00,479.85 134.50,476.39 135.74,482.30 136.78,476.19 138.03,479.37 138.75,475.34 139.20,478.00 139.60,430.00 139.90,405.00 140.30,440.00 140.80,484.00 141.50,470.00 142.50,480.00 143.50,472.00 144.20,440.00 144.70,424.30 145.20,455.00 146.00,482.00 147.00,476.00 148.30,478.00 148.90,461.00 149.50,472.00 150.20,481.00 150.50,482.16 152.16,477.55 153.46,480.07 154.55,478.08 156.19,482.56 157.82,479.04 158.50,482.62 159.00,483.02 159.50,483.41 160.00,483.82 160.50,484.23 161.00,484.65 161.50,485.08 162.00,485.53 162.50,485.99 163.00,486.51 163.50,487.07 164.00,487.65 164.50,488.22 165.00,488.75 165.50,489.22 166.00,489.60 166.50,489.91 167.00,490.20 167.50,490.47 168.00,490.71 168.50,490.94 169.00,491.16 169.50,491.36 170.00,491.56 170.50,491.75 171.00,491.95 171.50,492.14 172.00,492.33 172.50,492.52 173.00,492.70 173.50,492.88 174.00,493.05 174.50,493.23 175.00,493.39 175.50,493.56 176.00,493.72 176.50,493.88 177.00,494.03 177.50,494.18 178.00,494.33 178.50,494.47 179.00,494.62 179.50,494.76 180.00,494.90 180.50,495.06 181.00,495.22 181.50,495.38 182.00,495.54 182.50,495.70 183.00,495.86 183.50,496.01 184.00,496.15 184.50,496.29 185.00,496.41 185.50,496.52 186.00,496.62 186.50,496.69 187.00,496.75 187.50,496.79 188.00,496.80 188.50,496.79 189.00,496.77 189.50,496.73 190.00,496.68 190.50,496.62 191.00,496.56 191.50,496.49 192.00,496.41 192.50,496.33 193.00,496.26 193.50,496.18 194.00,496.12 194.50,496.05 195.00,496.00 195.50,495.95 196.00,495.92 196.50,495.90 197.00,495.90 197.50,495.90 198.00,495.91 198.50,495.92 199.00,495.93 199.50,495.94 200.00,495.95 200.50,495.97 201.00,495.99 201.50,496.01 202.00,496.03 202.50,496.05 203.00,496.07 203.50,496.09 204.00,496.12 204.50,496.14 205.00,496.16 205.50,496.19 206.00,496.21 206.50,496.23 207.00,496.26 207.50,496.28 208.00,496.30 208.50,496.32 209.00,496.33 209.50,496.35 210.00,496.36 210.50,496.38 211.00,496.39 211.50,496.39 212.00,496.40 212.50,496.40 213.00,496.40 213.50,496.40 214.00,496.40 214.50,496.40 215.00,496.40 215.50,496.40 216.00,496.40 216.50,496.40 217.00,496.40 217.50,496.40 218.00,496.40 218.50,496.40 219.00,496.40 219.50,496.40 220.00,496.40 220.50,496.40 221.00,496.40 221.50,496.40 222.00,496.40 222.50,496.40 223.00,496.40 223.50,496.40 224.00,496.40 224.50,496.40 225.00,496.40 225.50,496.40 226.00,496.40 226.50,496.40 227.00,496.40 227.50,496.40 228.00,496.40 228.50,496.40 229.00,496.40 229.50,496.40 230.00,496.40 230.50,496.40 231.00,496.40 231.50,496.40 232.00,496.40 232.50,496.40 233.00,496.40 233.50,496.40 234.00,496.40 234.50,496.40 235.00,496.40 235.50,496.40 236.00,496.40 236.50,496.40 237.00,496.40 237.50,496.40 238.00,496.40 238.50,496.40 239.00,496.40 239.50,496.40 240.00,496.40 240.50,496.40 241.00,496.40 241.50,496.40 242.00,496.40 242.50,496.40 243.00,496.40 243.50,496.40 244.00,496.40 244.50,496.40 245.00,496.40 245.50,496.40 246.00,496.40 246.50,496.40 247.00,496.40 247.50,496.40 248.00,496.40 248.50,496.40 249.00,496.40 249.50,496.40 250.00,496.40 250.50,496.40 251.00,496.40 251.50,496.40 252.00,496.40 252.50,496.40 253.00,496.40 253.50,496.40 254.00,496.40 254.50,496.40 255.00,496.40 255.50,496.40 256.00,496.40 256.50,496.40 257.00,496.40 257.50,496.40 258.00,496.40 258.50,496.40 259.00,496.40 259.50,496.40 260.00,496.40 260.50,496.40 261.00,496.40 261.50,496.40 262.00,496.40 262.50,496.40 263.00,496.40 263.50,496.40 264.00,496.40 264.50,496.40 265.00,496.40 265.50,496.40 266.00,496.40 266.50,496.40 267.00,496.40 267.50,496.40 268.00,496.40 268.50,496.40 269.00,496.40 269.50,496.40 270.00,496.40 270.50,496.40 271.00,496.40 271.50,496.40 272.00,496.40 272.50,496.40 273.00,496.40 273.50,496.40 274.00,496.40 274.50,496.40 275.00,496.40 275.50,496.40 276.00,496.40 276.50,496.40 277.00,496.40 277.50,496.40 278.00,496.40" fill="none" stroke="#a444a6" stroke-width="0.9" stroke-linejoin="round" clip-path="url(#cc1)"/>
<polyline points="45.00,610.80 45.50,610.73 46.00,610.66 46.50,610.60 47.00,610.53 47.50,610.46 48.00,610.40 48.50,610.33 49.00,610.27 49.50,610.22 50.00,610.16 50.50,610.11 51.00,610.07 51.50,610.02 52.00,609.99 52.50,609.96 53.00,609.93 53.50,609.92 54.00,609.90 54.50,609.90 55.00,609.90 55.50,609.90 56.00,609.90 56.50,609.90 57.00,609.90 57.50,609.90 58.00,609.90 58.50,609.90 59.00,609.90 59.50,609.90 60.00,609.90 60.50,609.90 61.00,609.90 61.50,609.90 62.00,609.90 62.50,609.90 63.00,609.90 63.50,609.90 64.00,609.90 64.50,609.90 65.00,609.90 65.50,609.90 66.00,609.90 66.50,609.90 67.00,609.90 67.50,609.89 68.00,609.86 68.50,609.82 69.00,609.77 69.50,609.71 70.00,609.63 70.50,609.55 71.00,609.46 71.50,609.37 72.00,609.26 72.50,609.16 73.00,609.04 73.50,608.93 74.00,608.81 74.50,608.69 75.00,608.57 75.50,608.45 76.00,608.33 76.50,608.22 77.00,608.10 77.50,607.99 78.00,607.89 78.50,607.79 79.00,607.70 79.50,607.61 80.00,607.53 80.50,607.45 81.00,607.37 81.50,607.29 82.00,607.22 82.50,607.15 83.00,607.08 83.50,607.01 84.00,606.94 84.50,606.87 85.00,606.80 85.50,606.73 86.00,606.66 86.50,606.59 87.00,606.52 87.50,606.45 88.00,606.38 88.50,606.31 89.00,606.23 89.50,606.15 90.00,606.07 90.50,605.99 91.00,605.91 91.50,605.82 92.00,605.73 92.50,605.64 93.00,605.54 93.50,605.44 94.00,605.33 94.50,605.22 95.00,605.10 95.50,604.98 96.00,604.86 96.50,604.73 97.00,604.58 97.50,604.42 98.00,604.24 98.50,604.04 99.00,603.82 99.50,603.59 100.00,603.34 100.50,603.08 101.00,602.81 101.50,602.54 102.00,602.25 102.50,601.96 103.00,601.67 103.50,601.37 104.00,601.07 104.50,600.77 105.00,600.48 105.50,600.18 106.00,599.89 106.50,599.58 107.00,599.27 107.50,598.96 108.00,598.64 108.50,598.31 109.00,597.98 109.50,597.64 110.00,597.29 110.50,596.94 111.00,596.58 111.50,596.22 112.00,595.84 112.50,595.46 113.00,595.08 113.50,594.68 114.00,594.28 114.50,593.88 115.00,593.48 115.50,593.08 116.00,592.68 116.50,592.28 117.00,591.88 117.50,591.47 118.00,591.05 118.50,590.62 119.00,590.18 119.50,589.72 120.00,589.25 120.50,588.76 121.00,588.24 121.50,587.70 122.00,587.14 122.50,586.55 123.00,585.92 123.50,585.27 124.00,584.58 124.50,583.85 125.00,583.04 125.50,582.05 126.00,580.92 126.50,579.67 127.00,578.33 127.50,576.94 128.00,575.50 128.50,574.06 129.00,572.65 129.50,571.28 130.00,569.99 130.50,568.73 131.00,567.49 131.50,566.24 132.00,564.97 132.50,563.67 133.00,562.33 133.50,560.89 134.00,559.22 134.40,558.20 134.90,547.70 135.50,562.90 136.50,539.40 137.20,545.00 138.10,544.10 138.60,537.00 139.10,531.00 139.60,551.40 140.20,566.00 140.70,552.00 141.20,551.40 141.70,568.60 143.00,556.00 144.40,549.30 145.10,560.00 145.90,567.10 146.80,560.00 148.00,566.00 149.00,563.00 150.10,571.30 151.20,562.90 152.20,574.40 153.20,558.70 154.20,566.00 155.30,565.00 156.40,573.30 156.50,573.47 157.00,574.34 157.50,575.27 158.00,576.23 158.50,577.20 159.00,578.17 159.50,579.11 160.00,580.00 160.50,580.86 161.00,581.71 161.50,582.55 162.00,583.37 162.50,584.18 163.00,584.98 163.50,585.76 164.00,586.53 164.50,587.27 165.00,588.00 165.50,588.71 166.00,589.41 166.50,590.10 167.00,590.78 167.50,591.44 168.00,592.09 168.50,592.72 169.00,593.33 169.50,593.92 170.00,594.50 170.50,595.06 171.00,595.61 171.50,596.15 172.00,596.68 172.50,597.19 173.00,597.69 173.50,598.17 174.00,598.63 174.50,599.08 175.00,599.50 175.50,599.91 176.00,600.30 176.50,600.68 177.00,601.04 177.50,601.40 178.00,601.74 178.50,602.07 179.00,602.39 179.50,602.70 180.00,603.00 180.50,603.32 181.00,603.66 181.50,604.00 182.00,604.31 182.50,604.56 183.00,604.74 183.50,604.80 184.00,604.67 184.50,604.40 185.00,604.12 185.50,604.00 186.00,604.06 186.50,604.22 187.00,604.42 187.50,604.63 188.00,604.80 188.50,604.94 189.00,605.07 189.50,605.19 190.00,605.32 190.50,605.44 191.00,605.56 191.50,605.67 192.00,605.79 192.50,605.90 193.00,606.00 193.50,606.11 194.00,606.21 194.50,606.30 195.00,606.40 195.50,606.49 196.00,606.59 196.50,606.68 197.00,606.77 197.50,606.87 198.00,606.96 198.50,607.05 199.00,607.14 199.50,607.23 200.00,607.32 200.50,607.41 201.00,607.49 201.50,607.58 202.00,607.66 202.50,607.75 203.00,607.83 203.50,607.91 204.00,607.99 204.50,608.07 205.00,608.14 205.50,608.22 206.00,608.29 206.50,608.37 207.00,608.44 207.50,608.51 208.00,608.57 208.50,608.64 209.00,608.70 209.50,608.76 210.00,608.82 210.50,608.88 211.00,608.94 211.50,608.99 212.00,609.04 212.50,609.09 213.00,609.14 213.50,609.18 214.00,609.23 214.50,609.28 215.00,609.32 215.50,609.36 216.00,609.41 216.50,609.45 217.00,609.49 217.50,609.53 218.00,609.58 218.50,609.62 219.00,609.65 219.50,609.69 220.00,609.73 220.50,609.77 221.00,609.80 221.50,609.84 222.00,609.87 222.50,609.91 223.00,609.94 223.50,609.97 224.00,610.00 224.50,610.03 225.00,610.06 225.50,610.09 226.00,610.12 226.50,610.14 227.00,610.17 227.50,610.19 228.00,610.21 228.50,610.24 229.00,610.26 229.50,610.28 230.00,610.30 230.50,610.31 231.00,610.33 231.50,610.35 232.00,610.37 232.50,610.39 233.00,610.40 233.50,610.42 234.00,610.44 234.50,610.46 235.00,610.47 235.50,610.49 236.00,610.51 236.50,610.52 237.00,610.54 237.50,610.55 238.00,610.57 238.50,610.58 239.00,610.60 239.50,610.61 240.00,610.63 240.50,610.64 241.00,610.65 241.50,610.67 242.00,610.68 242.50,610.69 243.00,610.70 243.50,610.71 244.00,610.72 244.50,610.73 245.00,610.74 245.50,610.75 246.00,610.76 246.50,610.77 247.00,610.77 247.50,610.78 248.00,610.78 248.50,610.79 249.00,610.79 249.50,610.80 250.00,610.80 250.50,610.80 251.00,610.80 251.50,610.80 252.00,610.80 252.50,610.80 253.00,610.80 253.50,610.80 254.00,610.80 254.50,610.79 255.00,610.79 255.50,610.79 256.00,610.79 256.50,610.78 257.00,610.78 257.50,610.78 258.00,610.77 258.50,610.77 259.00,610.77 259.50,610.76 260.00,610.76 260.50,610.75 261.00,610.74 261.50,610.74 262.00,610.73 262.50,610.72 263.00,610.72 263.50,610.71 264.00,610.70 264.50,610.69 265.00,610.68 265.50,610.68 266.00,610.67 266.50,610.66 267.00,610.65 267.50,610.63 268.00,610.62 268.50,610.61 269.00,610.60 269.50,610.59 270.00,610.57 270.50,610.56 271.00,610.55 271.50,610.53 272.00,610.52 272.50,610.50 273.00,610.49 273.50,610.47 274.00,610.45 274.50,610.44 275.00,610.42 275.50,610.40 276.00,610.38 276.50,610.36 277.00,610.34 277.50,610.32 278.00,610.30" fill="none" stroke="#ff45a8" stroke-width="1.1" stroke-linejoin="round" clip-path="url(#cc2)"/>
<polyline points="45.00,716.70 45.50,716.64 46.00,716.58 46.50,716.51 47.00,716.45 47.50,716.39 48.00,714.07 48.97,715.84 49.81,716.89 50.88,714.90 51.84,715.61 52.97,712.43 54.09,716.18 54.72,716.18 55.55,715.87 56.27,714.64 57.24,715.37 57.97,715.19 59.04,714.52 59.91,715.97 60.96,714.62 62.05,714.07 62.73,713.06 63.40,714.14 64.55,714.82 65.69,714.13 66.68,711.96 67.81,712.90 68.45,712.88 69.66,712.71 70.30,711.69 71.03,708.90 71.61,710.21 72.76,711.17 73.72,710.60 74.62,707.32 75.78,709.72 76.92,708.63 77.55,705.12 78.21,705.71 79.19,704.36 80.41,702.80 81.49,701.86 82.04,701.85 82.99,700.76 83.55,702.59 84.18,697.12 85.01,699.24 85.93,699.39 86.92,697.84 87.71,697.68 88.76,694.24 89.48,695.63 90.57,694.19 91.13,693.68 92.36,692.44 93.15,688.76 93.81,692.31 94.74,691.11 95.63,689.39 96.83,686.08 97.67,688.15 98.36,686.53 99.05,687.07 99.60,686.23 100.56,685.08 101.69,682.09 102.43,682.36 103.38,678.99 104.47,677.90 105.59,678.07 106.21,678.21 106.91,676.49 108.01,676.68 108.65,677.15 109.67,675.77 110.41,675.84 111.44,674.47 112.58,673.15 113.72,671.71 114.67,669.74 115.70,667.84 116.84,669.19 117.90,666.36 118.87,667.86 119.88,665.22 120.48,665.02 121.66,666.12 122.78,665.45 123.49,663.10 124.75,663.83 125.33,662.13 126.47,660.64 127.24,660.32 128.49,656.48 129.49,652.35 130.32,652.57 131.48,650.46 132.15,649.33 133.15,647.55 134.04,646.98 135.03,648.27 136.19,644.89 137.02,643.69 138.27,640.92 138.97,639.64 140.06,639.51 141.08,638.59 142.12,639.40 143.22,638.42 144.44,639.41 145.66,638.76 146.50,638.51 147.46,639.32 148.07,638.43 149.31,640.49 150.04,640.58 151.25,640.81 152.04,638.17 152.68,641.47 153.47,642.35 154.54,644.20 155.29,641.18 155.87,643.66 156.75,644.74 157.90,644.62 159.11,644.71 160.16,645.21 161.36,644.31 162.20,645.99 162.76,646.02 163.41,646.00 164.54,646.90 165.49,648.46 166.49,646.29 167.74,653.65 168.67,657.66 169.67,660.32 170.57,662.90 171.63,663.36 172.54,666.00 173.59,666.56 174.44,667.36 175.44,667.77 176.23,668.12 177.34,669.26 178.21,668.39 178.99,666.60 179.92,668.91 181.15,669.95 181.93,670.36 183.11,671.38 183.94,673.85 184.67,671.95 185.58,674.32 186.12,673.88 186.92,675.75 187.67,676.58 188.52,675.77 189.51,676.20 190.09,675.87 191.14,675.55 192.10,677.03 192.98,676.80 194.13,679.04 194.88,679.18 195.55,679.71 196.16,679.97 196.75,680.51 197.33,681.42 198.46,682.75 199.36,684.21 199.97,685.53 201.11,686.21 201.84,687.14 202.51,688.16 203.17,687.44 204.37,690.27 205.45,690.47 206.60,691.28 207.51,693.37 208.14,693.96 209.16,695.29 209.95,695.03 210.50,695.80 211.13,697.35 212.20,698.02 213.03,699.58 214.17,701.22 215.02,701.41 216.06,703.14 216.75,704.17 217.63,704.65 218.54,706.52 219.10,705.91 220.33,708.59 221.17,708.97 222.07,711.54 223.01,710.64 223.91,710.80 224.79,712.73 225.62,711.38 226.43,712.00 227.64,714.82 228.47,712.37 229.68,714.45 230.83,713.66 231.65,714.85 232.50,714.39 233.00,714.52 233.50,714.65 234.00,714.77 234.50,714.89 235.00,715.01 235.50,715.13 236.00,715.24 236.50,715.34 237.00,715.45 237.50,715.55 238.00,715.65 238.50,715.74 239.00,715.84 239.50,715.93 240.00,716.03 240.50,716.13 241.00,716.23 241.50,716.33 242.00,716.43 242.50,716.52 243.00,716.62 243.50,716.70 244.00,716.78 244.50,716.86 245.00,716.93 245.50,716.98 246.00,717.03 246.50,717.07 247.00,717.09 247.50,717.10 248.00,717.10 248.50,717.10 249.00,717.10 249.50,717.10 250.00,717.10 250.50,717.10 251.00,717.10 251.50,717.10 252.00,717.10 252.50,717.10 253.00,717.10 253.50,717.10 254.00,717.10 254.50,717.10 255.00,717.10 255.50,717.10 256.00,717.10 256.50,717.10 257.00,717.10 257.50,717.10 258.00,717.10 258.50,717.10 259.00,717.10 259.50,717.10 260.00,717.10 260.50,717.10 261.00,717.10 261.50,717.10 262.00,717.10 262.50,717.10 263.00,717.10 263.50,717.10 264.00,717.10 264.50,717.10 265.00,717.10 265.50,717.10 266.00,717.10 266.50,717.11 267.00,717.12 267.50,717.13 268.00,717.14 268.50,717.15 269.00,717.16 269.50,717.18 270.00,717.20 270.50,717.22 271.00,717.24 271.50,717.26 272.00,717.28 272.50,717.30 273.00,717.33 273.50,717.35 274.00,717.38 274.50,717.41 275.00,717.43 275.50,717.46 276.00,717.49 276.50,717.52 277.00,717.54 277.50,717.57 278.00,717.60" fill="none" stroke="#000" stroke-width="0.75" stroke-linejoin="round" clip-path="url(#cc3)"/>
<line x1="43.50" y1="409.40" x2="43.50" y2="729.80" stroke="#000" stroke-width="2.6" />
<line x1="277.70" y1="409.40" x2="277.70" y2="729.80" stroke="#000" stroke-width="3.0" />
<line x1="42.20" y1="410.60" x2="279.20" y2="410.60" stroke="#000" stroke-width="2.4" />
<line x1="42.20" y1="728.40" x2="279.20" y2="728.40" stroke="#000" stroke-width="2.8" />
<line x1="43.50" y1="516.90" x2="277.70" y2="516.90" stroke="#000" stroke-width="2.4" />
<line x1="43.50" y1="622.90" x2="277.70" y2="622.90" stroke="#000" stroke-width="2.4" />
<line x1="56.00" y1="411.60" x2="56.00" y2="415.20" stroke="#000" stroke-width="2.2" />
<line x1="56.00" y1="515.70" x2="56.00" y2="512.10" stroke="#000" stroke-width="2.2" />
<line x1="101.30" y1="411.60" x2="101.30" y2="415.20" stroke="#000" stroke-width="2.2" />
<line x1="101.30" y1="515.70" x2="101.30" y2="512.10" stroke="#000" stroke-width="2.2" />
<line x1="146.60" y1="411.60" x2="146.60" y2="415.20" stroke="#000" stroke-width="2.2" />
<line x1="146.60" y1="515.70" x2="146.60" y2="512.10" stroke="#000" stroke-width="2.2" />
<line x1="191.90" y1="411.60" x2="191.90" y2="415.20" stroke="#000" stroke-width="2.2" />
<line x1="191.90" y1="515.70" x2="191.90" y2="512.10" stroke="#000" stroke-width="2.2" />
<line x1="237.20" y1="411.60" x2="237.20" y2="415.20" stroke="#000" stroke-width="2.2" />
<line x1="237.20" y1="515.70" x2="237.20" y2="512.10" stroke="#000" stroke-width="2.2" />
<line x1="78.65" y1="411.60" x2="78.65" y2="413.20" stroke="#000" stroke-width="2.2" />
<line x1="78.65" y1="515.70" x2="78.65" y2="514.10" stroke="#000" stroke-width="2.2" />
<line x1="123.95" y1="411.60" x2="123.95" y2="413.20" stroke="#000" stroke-width="2.2" />
<line x1="123.95" y1="515.70" x2="123.95" y2="514.10" stroke="#000" stroke-width="2.2" />
<line x1="169.25" y1="411.60" x2="169.25" y2="413.20" stroke="#000" stroke-width="2.2" />
<line x1="169.25" y1="515.70" x2="169.25" y2="514.10" stroke="#000" stroke-width="2.2" />
<line x1="214.55" y1="411.60" x2="214.55" y2="413.20" stroke="#000" stroke-width="2.2" />
<line x1="214.55" y1="515.70" x2="214.55" y2="514.10" stroke="#000" stroke-width="2.2" />
<line x1="259.85" y1="411.60" x2="259.85" y2="413.20" stroke="#000" stroke-width="2.2" />
<line x1="259.85" y1="515.70" x2="259.85" y2="514.10" stroke="#000" stroke-width="2.2" />
<line x1="56.00" y1="621.70" x2="56.00" y2="618.10" stroke="#000" stroke-width="2.2" />
<line x1="101.30" y1="621.70" x2="101.30" y2="618.10" stroke="#000" stroke-width="2.2" />
<line x1="146.60" y1="621.70" x2="146.60" y2="618.10" stroke="#000" stroke-width="2.2" />
<line x1="191.90" y1="621.70" x2="191.90" y2="618.10" stroke="#000" stroke-width="2.2" />
<line x1="237.20" y1="621.70" x2="237.20" y2="618.10" stroke="#000" stroke-width="2.2" />
<line x1="78.65" y1="621.70" x2="78.65" y2="620.10" stroke="#000" stroke-width="2.2" />
<line x1="123.95" y1="621.70" x2="123.95" y2="620.10" stroke="#000" stroke-width="2.2" />
<line x1="169.25" y1="621.70" x2="169.25" y2="620.10" stroke="#000" stroke-width="2.2" />
<line x1="214.55" y1="621.70" x2="214.55" y2="620.10" stroke="#000" stroke-width="2.2" />
<line x1="259.85" y1="621.70" x2="259.85" y2="620.10" stroke="#000" stroke-width="2.2" />
<line x1="56.00" y1="727.20" x2="56.00" y2="723.60" stroke="#000" stroke-width="2.2" />
<line x1="101.30" y1="727.20" x2="101.30" y2="723.60" stroke="#000" stroke-width="2.2" />
<line x1="146.60" y1="727.20" x2="146.60" y2="723.60" stroke="#000" stroke-width="2.2" />
<line x1="191.90" y1="727.20" x2="191.90" y2="723.60" stroke="#000" stroke-width="2.2" />
<line x1="237.20" y1="727.20" x2="237.20" y2="723.60" stroke="#000" stroke-width="2.2" />
<line x1="78.65" y1="727.20" x2="78.65" y2="725.60" stroke="#000" stroke-width="2.2" />
<line x1="123.95" y1="727.20" x2="123.95" y2="725.60" stroke="#000" stroke-width="2.2" />
<line x1="169.25" y1="727.20" x2="169.25" y2="725.60" stroke="#000" stroke-width="2.2" />
<line x1="214.55" y1="727.20" x2="214.55" y2="725.60" stroke="#000" stroke-width="2.2" />
<line x1="259.85" y1="727.20" x2="259.85" y2="725.60" stroke="#000" stroke-width="2.2" />
<line x1="44.70" y1="418.60" x2="48.50" y2="418.60" stroke="#000" stroke-width="2.2" />
<line x1="276.70" y1="418.60" x2="272.90" y2="418.60" stroke="#000" stroke-width="2.2" />
<line x1="44.70" y1="444.80" x2="48.50" y2="444.80" stroke="#000" stroke-width="2.2" />
<line x1="276.70" y1="444.80" x2="272.90" y2="444.80" stroke="#000" stroke-width="2.2" />
<line x1="44.70" y1="471.00" x2="48.50" y2="471.00" stroke="#000" stroke-width="2.2" />
<line x1="276.70" y1="471.00" x2="272.90" y2="471.00" stroke="#000" stroke-width="2.2" />
<line x1="44.70" y1="497.00" x2="48.50" y2="497.00" stroke="#000" stroke-width="2.2" />
<line x1="276.70" y1="497.00" x2="272.90" y2="497.00" stroke="#000" stroke-width="2.2" />
<line x1="44.70" y1="431.70" x2="46.70" y2="431.70" stroke="#000" stroke-width="2.2" />
<line x1="276.70" y1="431.70" x2="274.70" y2="431.70" stroke="#000" stroke-width="2.2" />
<line x1="44.70" y1="457.90" x2="46.70" y2="457.90" stroke="#000" stroke-width="2.2" />
<line x1="276.70" y1="457.90" x2="274.70" y2="457.90" stroke="#000" stroke-width="2.2" />
<line x1="44.70" y1="484.00" x2="46.70" y2="484.00" stroke="#000" stroke-width="2.2" />
<line x1="276.70" y1="484.00" x2="274.70" y2="484.00" stroke="#000" stroke-width="2.2" />
<line x1="44.70" y1="531.10" x2="48.50" y2="531.10" stroke="#000" stroke-width="2.2" />
<line x1="276.70" y1="531.10" x2="272.90" y2="531.10" stroke="#000" stroke-width="2.2" />
<line x1="44.70" y1="557.60" x2="48.50" y2="557.60" stroke="#000" stroke-width="2.2" />
<line x1="276.70" y1="557.60" x2="272.90" y2="557.60" stroke="#000" stroke-width="2.2" />
<line x1="44.70" y1="584.30" x2="48.50" y2="584.30" stroke="#000" stroke-width="2.2" />
<line x1="276.70" y1="584.30" x2="272.90" y2="584.30" stroke="#000" stroke-width="2.2" />
<line x1="44.70" y1="610.70" x2="48.50" y2="610.70" stroke="#000" stroke-width="2.2" />
<line x1="276.70" y1="610.70" x2="272.90" y2="610.70" stroke="#000" stroke-width="2.2" />
<line x1="44.70" y1="544.35" x2="46.70" y2="544.35" stroke="#000" stroke-width="2.2" />
<line x1="276.70" y1="544.35" x2="274.70" y2="544.35" stroke="#000" stroke-width="2.2" />
<line x1="44.70" y1="570.95" x2="46.70" y2="570.95" stroke="#000" stroke-width="2.2" />
<line x1="276.70" y1="570.95" x2="274.70" y2="570.95" stroke="#000" stroke-width="2.2" />
<line x1="44.70" y1="597.50" x2="46.70" y2="597.50" stroke="#000" stroke-width="2.2" />
<line x1="276.70" y1="597.50" x2="274.70" y2="597.50" stroke="#000" stroke-width="2.2" />
<line x1="44.70" y1="622.90" x2="48.50" y2="622.90" stroke="#000" stroke-width="2.2" />
<line x1="276.70" y1="622.90" x2="272.90" y2="622.90" stroke="#000" stroke-width="2.2" />
<line x1="44.70" y1="649.20" x2="48.50" y2="649.20" stroke="#000" stroke-width="2.2" />
<line x1="276.70" y1="649.20" x2="272.90" y2="649.20" stroke="#000" stroke-width="2.2" />
<line x1="44.70" y1="675.50" x2="48.50" y2="675.50" stroke="#000" stroke-width="2.2" />
<line x1="276.70" y1="675.50" x2="272.90" y2="675.50" stroke="#000" stroke-width="2.2" />
<line x1="44.70" y1="702.00" x2="48.50" y2="702.00" stroke="#000" stroke-width="2.2" />
<line x1="276.70" y1="702.00" x2="272.90" y2="702.00" stroke="#000" stroke-width="2.2" />
<line x1="44.70" y1="728.30" x2="48.50" y2="728.30" stroke="#000" stroke-width="2.2" />
<line x1="276.70" y1="728.30" x2="272.90" y2="728.30" stroke="#000" stroke-width="2.2" />
<line x1="44.70" y1="636.05" x2="46.70" y2="636.05" stroke="#000" stroke-width="2.2" />
<line x1="276.70" y1="636.05" x2="274.70" y2="636.05" stroke="#000" stroke-width="2.2" />
<line x1="44.70" y1="662.35" x2="46.70" y2="662.35" stroke="#000" stroke-width="2.2" />
<line x1="276.70" y1="662.35" x2="274.70" y2="662.35" stroke="#000" stroke-width="2.2" />
<line x1="44.70" y1="688.75" x2="46.70" y2="688.75" stroke="#000" stroke-width="2.2" />
<line x1="276.70" y1="688.75" x2="274.70" y2="688.75" stroke="#000" stroke-width="2.2" />
<line x1="44.70" y1="715.15" x2="46.70" y2="715.15" stroke="#000" stroke-width="2.2" />
<line x1="276.70" y1="715.15" x2="274.70" y2="715.15" stroke="#000" stroke-width="2.2" />
<line x1="44.70" y1="509.80" x2="46.70" y2="509.80" stroke="#000" stroke-width="2.2" />
<line x1="276.50" y1="509.80" x2="274.50" y2="509.80" stroke="#000" stroke-width="2.2" />
<text x="40.70" y="421.40" font-size="7.8" fill="#1c1c30" font-weight="bold" text-anchor="end" font-family="Liberation Sans, sans-serif" textLength="19.50" lengthAdjust="spacingAndGlyphs" >63000</text>
<text x="40.70" y="447.60" font-size="7.8" fill="#1c1c30" font-weight="bold" text-anchor="end" font-family="Liberation Sans, sans-serif" textLength="19.50" lengthAdjust="spacingAndGlyphs" >42000</text>
<text x="40.70" y="473.80" font-size="7.8" fill="#1c1c30" font-weight="bold" text-anchor="end" font-family="Liberation Sans, sans-serif" textLength="19.50" lengthAdjust="spacingAndGlyphs" >21000</text>
<text x="40.70" y="499.80" font-size="7.8" fill="#1c1c30" font-weight="bold" text-anchor="end" font-family="Liberation Sans, sans-serif" >0</text>
<text x="40.70" y="533.90" font-size="7.8" fill="#1c1c30" font-weight="bold" text-anchor="end" font-family="Liberation Sans, sans-serif" textLength="19.50" lengthAdjust="spacingAndGlyphs" >15600</text>
<text x="40.70" y="560.40" font-size="7.8" fill="#1c1c30" font-weight="bold" text-anchor="end" font-family="Liberation Sans, sans-serif" textLength="19.50" lengthAdjust="spacingAndGlyphs" >10400</text>
<text x="40.70" y="587.10" font-size="7.8" fill="#1c1c30" font-weight="bold" text-anchor="end" font-family="Liberation Sans, sans-serif" textLength="15.60" lengthAdjust="spacingAndGlyphs" >5200</text>
<text x="40.70" y="613.50" font-size="7.8" fill="#1c1c30" font-weight="bold" text-anchor="end" font-family="Liberation Sans, sans-serif" >0</text>
<text x="40.70" y="625.70" font-size="7.8" fill="#1c1c30" font-weight="bold" text-anchor="end" font-family="Liberation Sans, sans-serif" textLength="15.60" lengthAdjust="spacingAndGlyphs" >2200</text>
<text x="40.70" y="652.00" font-size="7.8" fill="#1c1c30" font-weight="bold" text-anchor="end" font-family="Liberation Sans, sans-serif" textLength="15.60" lengthAdjust="spacingAndGlyphs" >1650</text>
<text x="40.70" y="678.30" font-size="7.8" fill="#1c1c30" font-weight="bold" text-anchor="end" font-family="Liberation Sans, sans-serif" textLength="15.60" lengthAdjust="spacingAndGlyphs" >1100</text>
<text x="40.70" y="704.80" font-size="7.8" fill="#1c1c30" font-weight="bold" text-anchor="end" font-family="Liberation Sans, sans-serif" textLength="11.70" lengthAdjust="spacingAndGlyphs" >550</text>
<text x="40.70" y="731.10" font-size="7.8" fill="#1c1c30" font-weight="bold" text-anchor="end" font-family="Liberation Sans, sans-serif" >0</text>
<text x="56.00" y="741.30" font-size="9.3" fill="#202030" font-weight="normal" text-anchor="middle" font-family="Liberation Sans, sans-serif" textLength="15.00" lengthAdjust="spacingAndGlyphs" stroke="#202030" stroke-width="0.3">725</text>
<text x="101.30" y="741.30" font-size="9.3" fill="#202030" font-weight="normal" text-anchor="middle" font-family="Liberation Sans, sans-serif" textLength="15.00" lengthAdjust="spacingAndGlyphs" stroke="#202030" stroke-width="0.3">750</text>
<text x="146.60" y="741.30" font-size="9.3" fill="#202030" font-weight="normal" text-anchor="middle" font-family="Liberation Sans, sans-serif" textLength="15.00" lengthAdjust="spacingAndGlyphs" stroke="#202030" stroke-width="0.3">775</text>
<text x="191.90" y="741.30" font-size="9.3" fill="#202030" font-weight="normal" text-anchor="middle" font-family="Liberation Sans, sans-serif" textLength="15.00" lengthAdjust="spacingAndGlyphs" stroke="#202030" stroke-width="0.3">800</text>
<text x="237.20" y="741.30" font-size="9.3" fill="#202030" font-weight="normal" text-anchor="middle" font-family="Liberation Sans, sans-serif" textLength="15.00" lengthAdjust="spacingAndGlyphs" stroke="#202030" stroke-width="0.3">825</text>
<text x="160.50" y="761.50" font-size="10" fill="#111" font-weight="bold" text-anchor="middle" font-family="Liberation Sans, sans-serif" textLength="79.00" lengthAdjust="spacingAndGlyphs" >Wavelength (nm)</text>
<text transform="translate(14.60,568.50) rotate(-90)" x="0" y="0" font-size="14.4" fill="#111" font-weight="bold" text-anchor="middle" font-family="Liberation Sans, sans-serif" textLength="110.00" lengthAdjust="spacingAndGlyphs">Intensity (a.u.)</text>
<rect x="44.80" y="411.80" width="57.60" height="10.80" fill="#fff" stroke="#111" stroke-width="1.1" />
<line x1="47.00" y1="417.70" x2="67.00" y2="417.70" stroke="#a444a6" stroke-width="1.6" />
<text x="69.10" y="421.10" font-size="9.8" fill="#1e1e38" font-weight="normal" text-anchor="start" font-family="Liberation Sans, sans-serif" textLength="30.50" lengthAdjust="spacingAndGlyphs" >0.16 mJ</text>
<rect x="44.80" y="518.10" width="60.20" height="10.90" fill="#fff" stroke="#111" stroke-width="1.1" />
<line x1="47.00" y1="523.00" x2="67.00" y2="523.00" stroke="#ff45a8" stroke-width="1.8" />
<text x="67.50" y="527.50" font-size="9.8" fill="#1e1e38" font-weight="normal" text-anchor="start" font-family="Liberation Sans, sans-serif" textLength="35.50" lengthAdjust="spacingAndGlyphs" >0.076 mJ</text>
<rect x="44.80" y="624.10" width="62.20" height="10.50" fill="#fff" stroke="#111" stroke-width="1.1" />
<line x1="47.00" y1="628.60" x2="67.00" y2="628.60" stroke="#000" stroke-width="1.4" />
<text x="69.00" y="633.10" font-size="9.8" fill="#1e1e38" font-weight="normal" text-anchor="start" font-family="Liberation Sans, sans-serif" textLength="36.00" lengthAdjust="spacingAndGlyphs" >0.038 mJ</text>
<text x="259.00" y="435.20" font-size="20.5" fill="#111" font-weight="bold" text-anchor="middle" font-family="Liberation Sans, sans-serif" textLength="21.70" lengthAdjust="spacingAndGlyphs" >(c)</text>
<line x1="461.70" y1="21.80" x2="461.70" y2="308.80" stroke="#000" stroke-width="1.6" />
<line x1="574.30" y1="21.80" x2="574.30" y2="308.80" stroke="#000" stroke-width="1.6" />
<polyline points="357.70,272.20 412.20,253.20 466.80,246.50 521.60,214.30 575.50,181.10 630.30,52.40" fill="none" stroke="#4a4a4a" stroke-width="2.0" stroke-linejoin="round" />
<rect x="354.90" y="268.90" width="5.60" height="6.60" fill="#4a4a4a" stroke="none" stroke-width="1" />
<rect x="409.40" y="249.90" width="5.60" height="6.60" fill="#4a4a4a" stroke="none" stroke-width="1" />
<rect x="464.00" y="243.20" width="5.60" height="6.60" fill="#4a4a4a" stroke="none" stroke-width="1" />
<rect x="518.80" y="211.00" width="5.60" height="6.60" fill="#4a4a4a" stroke="none" stroke-width="1" />
<rect x="572.70" y="177.80" width="5.60" height="6.60" fill="#4a4a4a" stroke="none" stroke-width="1" />
<rect x="627.50" y="49.10" width="5.60" height="6.60" fill="#4a4a4a" stroke="none" stroke-width="1" />
<polyline points="357.70,48.40 412.30,109.80 466.60,169.30 521.90,188.60 575.80,219.40 629.90,281.30" fill="none" stroke="#ee3a3f" stroke-width="2.0" stroke-linejoin="round" />
<rect x="355.00" y="45.10" width="5.40" height="6.60" fill="#ee3a3f" stroke="none" stroke-width="1" />
<rect x="409.60" y="106.50" width="5.40" height="6.60" fill="#ee3a3f" stroke="none" stroke-width="1" />
<rect x="463.90" y="166.00" width="5.40" height="6.60" fill="#ee3a3f" stroke="none" stroke-width="1" />
<rect x="519.20" y="185.30" width="5.40" height="6.60" fill="#ee3a3f" stroke="none" stroke-width="1" />
<rect x="573.10" y="216.10" width="5.40" height="6.60" fill="#ee3a3f" stroke="none" stroke-width="1" />
<rect x="627.20" y="278.00" width="5.40" height="6.60" fill="#ee3a3f" stroke="none" stroke-width="1" />
<line x1="347.60" y1="20.60" x2="347.60" y2="308.80" stroke="#4a4a4a" stroke-width="2.6" />
<line x1="645.60" y1="20.60" x2="645.60" y2="310.30" stroke="#ee3a3f" stroke-width="2.6" />
<line x1="346.30" y1="21.80" x2="645.60" y2="21.80" stroke="#000" stroke-width="2.5" />
<line x1="346.30" y1="308.80" x2="646.90" y2="308.80" stroke="#000" stroke-width="3.0" />
<line x1="369.20" y1="21.80" x2="369.20" y2="27.80" stroke="#000" stroke-width="2.8" />
<line x1="369.20" y1="308.80" x2="369.20" y2="314.80" stroke="#000" stroke-width="2.8" />
<line x1="402.38" y1="21.80" x2="402.38" y2="27.80" stroke="#000" stroke-width="2.8" />
<line x1="402.38" y1="308.80" x2="402.38" y2="314.80" stroke="#000" stroke-width="2.8" />
<line x1="435.56" y1="21.80" x2="435.56" y2="27.80" stroke="#000" stroke-width="2.8" />
<line x1="435.56" y1="308.80" x2="435.56" y2="314.80" stroke="#000" stroke-width="2.8" />
<line x1="468.74" y1="21.80" x2="468.74" y2="27.80" stroke="#000" stroke-width="2.8" />
<line x1="468.74" y1="308.80" x2="468.74" y2="314.80" stroke="#000" stroke-width="2.8" />
<line x1="501.92" y1="21.80" x2="501.92" y2="27.80" stroke="#000" stroke-width="2.8" />
<line x1="501.92" y1="308.80" x2="501.92" y2="314.80" stroke="#000" stroke-width="2.8" />
<line x1="535.10" y1="21.80" x2="535.10" y2="27.80" stroke="#000" stroke-width="2.8" />
<line x1="535.10" y1="308.80" x2="535.10" y2="314.80" stroke="#000" stroke-width="2.8" />
<line x1="568.28" y1="21.80" x2="568.28" y2="27.80" stroke="#000" stroke-width="2.8" />
<line x1="568.28" y1="308.80" x2="568.28" y2="314.80" stroke="#000" stroke-width="2.8" />
<line x1="601.46" y1="21.80" x2="601.46" y2="27.80" stroke="#000" stroke-width="2.8" />
<line x1="601.46" y1="308.80" x2="601.46" y2="314.80" stroke="#000" stroke-width="2.8" />
<line x1="634.64" y1="21.80" x2="634.64" y2="27.80" stroke="#000" stroke-width="2.8" />
<line x1="634.64" y1="308.80" x2="634.64" y2="314.80" stroke="#000" stroke-width="2.8" />
<line x1="352.61" y1="21.80" x2="352.61" y2="25.10" stroke="#000" stroke-width="2.4" />
<line x1="352.61" y1="308.80" x2="352.61" y2="312.10" stroke="#000" stroke-width="2.4" />
<line x1="385.79" y1="21.80" x2="385.79" y2="25.10" stroke="#000" stroke-width="2.4" />
<line x1="385.79" y1="308.80" x2="385.79" y2="312.10" stroke="#000" stroke-width="2.4" />
<line x1="418.97" y1="21.80" x2="418.97" y2="25.10" stroke="#000" stroke-width="2.4" />
<line x1="418.97" y1="308.80" x2="418.97" y2="312.10" stroke="#000" stroke-width="2.4" />
<line x1="452.15" y1="21.80" x2="452.15" y2="25.10" stroke="#000" stroke-width="2.4" />
<line x1="452.15" y1="308.80" x2="452.15" y2="312.10" stroke="#000" stroke-width="2.4" />
<line x1="485.33" y1="21.80" x2="485.33" y2="25.10" stroke="#000" stroke-width="2.4" />
<line x1="485.33" y1="308.80" x2="485.33" y2="312.10" stroke="#000" stroke-width="2.4" />
<line x1="518.51" y1="21.80" x2="518.51" y2="25.10" stroke="#000" stroke-width="2.4" />
<line x1="518.51" y1="308.80" x2="518.51" y2="312.10" stroke="#000" stroke-width="2.4" />
<line x1="551.69" y1="21.80" x2="551.69" y2="25.10" stroke="#000" stroke-width="2.4" />
<line x1="551.69" y1="308.80" x2="551.69" y2="312.10" stroke="#000" stroke-width="2.4" />
<line x1="584.87" y1="21.80" x2="584.87" y2="25.10" stroke="#000" stroke-width="2.4" />
<line x1="584.87" y1="308.80" x2="584.87" y2="312.10" stroke="#000" stroke-width="2.4" />
<line x1="618.05" y1="21.80" x2="618.05" y2="25.10" stroke="#000" stroke-width="2.4" />
<line x1="618.05" y1="308.80" x2="618.05" y2="312.10" stroke="#000" stroke-width="2.4" />
<line x1="342.80" y1="304.90" x2="347.60" y2="304.90" stroke="#4a4a4a" stroke-width="2.8" />
<line x1="345.00" y1="281.00" x2="347.60" y2="281.00" stroke="#4a4a4a" stroke-width="2.4" />
<line x1="342.80" y1="257.10" x2="347.60" y2="257.10" stroke="#4a4a4a" stroke-width="2.8" />
<line x1="345.00" y1="233.20" x2="347.60" y2="233.20" stroke="#4a4a4a" stroke-width="2.4" />
<line x1="342.80" y1="209.30" x2="347.60" y2="209.30" stroke="#4a4a4a" stroke-width="2.8" />
<line x1="345.00" y1="185.40" x2="347.60" y2="185.40" stroke="#4a4a4a" stroke-width="2.4" />
<line x1="342.80" y1="161.50" x2="347.60" y2="161.50" stroke="#4a4a4a" stroke-width="2.8" />
<line x1="345.00" y1="137.60" x2="347.60" y2="137.60" stroke="#4a4a4a" stroke-width="2.4" />
<line x1="342.80" y1="113.70" x2="347.60" y2="113.70" stroke="#4a4a4a" stroke-width="2.8" />
<line x1="345.00" y1="89.80" x2="347.60" y2="89.80" stroke="#4a4a4a" stroke-width="2.4" />
<line x1="342.80" y1="65.90" x2="347.60" y2="65.90" stroke="#4a4a4a" stroke-width="2.8" />
<line x1="345.00" y1="42.00" x2="347.60" y2="42.00" stroke="#4a4a4a" stroke-width="2.4" />
<line x1="645.60" y1="65.20" x2="650.80" y2="65.20" stroke="#ee3a3f" stroke-width="2.8" />
<line x1="645.60" y1="120.20" x2="650.80" y2="120.20" stroke="#ee3a3f" stroke-width="2.8" />
<line x1="645.60" y1="175.20" x2="650.80" y2="175.20" stroke="#ee3a3f" stroke-width="2.8" />
<line x1="645.60" y1="230.20" x2="650.80" y2="230.20" stroke="#ee3a3f" stroke-width="2.8" />
<line x1="645.60" y1="285.20" x2="650.80" y2="285.20" stroke="#ee3a3f" stroke-width="2.8" />
<line x1="645.60" y1="37.70" x2="648.40" y2="37.70" stroke="#ee3a3f" stroke-width="2.4" />
<line x1="645.60" y1="92.70" x2="648.40" y2="92.70" stroke="#ee3a3f" stroke-width="2.4" />
<line x1="645.60" y1="147.70" x2="648.40" y2="147.70" stroke="#ee3a3f" stroke-width="2.4" />
<line x1="645.60" y1="202.70" x2="648.40" y2="202.70" stroke="#ee3a3f" stroke-width="2.4" />
<line x1="645.60" y1="257.70" x2="648.40" y2="257.70" stroke="#ee3a3f" stroke-width="2.4" />
<text x="339.60" y="308.60" font-size="12.3" fill="#555560" font-weight="bold" text-anchor="end" font-family="Liberation Sans, sans-serif" textLength="5.60" lengthAdjust="spacingAndGlyphs" >0</text>
<text x="339.60" y="260.80" font-size="12.3" fill="#555560" font-weight="bold" text-anchor="end" font-family="Liberation Sans, sans-serif" textLength="22.20" lengthAdjust="spacingAndGlyphs" >5000</text>
<text x="339.60" y="213.00" font-size="12.3" fill="#555560" font-weight="bold" text-anchor="end" font-family="Liberation Sans, sans-serif" textLength="27.70" lengthAdjust="spacingAndGlyphs" >10000</text>
<text x="339.60" y="165.20" font-size="12.3" fill="#555560" font-weight="bold" text-anchor="end" font-family="Liberation Sans, sans-serif" textLength="27.70" lengthAdjust="spacingAndGlyphs" >15000</text>
<text x="339.60" y="117.40" font-size="12.3" fill="#555560" font-weight="bold" text-anchor="end" font-family="Liberation Sans, sans-serif" textLength="27.70" lengthAdjust="spacingAndGlyphs" >20000</text>
<text x="339.60" y="69.60" font-size="12.3" fill="#555560" font-weight="bold" text-anchor="end" font-family="Liberation Sans, sans-serif" textLength="27.70" lengthAdjust="spacingAndGlyphs" >25000</text>
<text x="654.00" y="70.10" font-size="17" fill="#ee3a3f" font-weight="normal" text-anchor="start" font-family="Liberation Sans, sans-serif" textLength="14.00" lengthAdjust="spacingAndGlyphs" stroke="#ee3a3f" stroke-width="0.5">35</text>
<text x="654.00" y="125.10" font-size="17" fill="#ee3a3f" font-weight="normal" text-anchor="start" font-family="Liberation Sans, sans-serif" textLength="14.00" lengthAdjust="spacingAndGlyphs" stroke="#ee3a3f" stroke-width="0.5">30</text>
<text x="654.00" y="180.10" font-size="17" fill="#ee3a3f" font-weight="normal" text-anchor="start" font-family="Liberation Sans, sans-serif" textLength="14.00" lengthAdjust="spacingAndGlyphs" stroke="#ee3a3f" stroke-width="0.5">25</text>
<text x="654.00" y="235.10" font-size="17" fill="#ee3a3f" font-weight="normal" text-anchor="start" font-family="Liberation Sans, sans-serif" textLength="14.00" lengthAdjust="spacingAndGlyphs" stroke="#ee3a3f" stroke-width="0.5">20</text>
<text x="654.00" y="290.10" font-size="17" fill="#ee3a3f" font-weight="normal" text-anchor="start" font-family="Liberation Sans, sans-serif" textLength="14.00" lengthAdjust="spacingAndGlyphs" stroke="#ee3a3f" stroke-width="0.5">15</text>
<text x="369.20" y="327.80" font-size="12" fill="#333340" font-weight="bold" text-anchor="middle" font-family="Liberation Sans, sans-serif" textLength="25.20" lengthAdjust="spacingAndGlyphs" >0.038</text>
<text x="402.38" y="327.80" font-size="12" fill="#333340" font-weight="bold" text-anchor="middle" font-family="Liberation Sans, sans-serif" textLength="25.20" lengthAdjust="spacingAndGlyphs" >0.057</text>
<text x="435.56" y="327.80" font-size="12" fill="#333340" font-weight="bold" text-anchor="middle" font-family="Liberation Sans, sans-serif" textLength="25.20" lengthAdjust="spacingAndGlyphs" >0.076</text>
<text x="468.74" y="327.80" font-size="12" fill="#333340" font-weight="bold" text-anchor="middle" font-family="Liberation Sans, sans-serif" textLength="25.20" lengthAdjust="spacingAndGlyphs" >0.095</text>
<text x="501.92" y="327.80" font-size="12" fill="#333340" font-weight="bold" text-anchor="middle" font-family="Liberation Sans, sans-serif" textLength="25.20" lengthAdjust="spacingAndGlyphs" >0.114</text>
<text x="535.10" y="327.80" font-size="12" fill="#333340" font-weight="bold" text-anchor="middle" font-family="Liberation Sans, sans-serif" textLength="25.20" lengthAdjust="spacingAndGlyphs" >0.133</text>
<text x="568.28" y="327.80" font-size="12" fill="#333340" font-weight="bold" text-anchor="middle" font-family="Liberation Sans, sans-serif" textLength="25.20" lengthAdjust="spacingAndGlyphs" >0.152</text>
<text x="601.46" y="327.80" font-size="12" fill="#333340" font-weight="bold" text-anchor="middle" font-family="Liberation Sans, sans-serif" textLength="25.20" lengthAdjust="spacingAndGlyphs" >0.171</text>
<text x="634.64" y="327.80" font-size="12" fill="#333340" font-weight="bold" text-anchor="middle" font-family="Liberation Sans, sans-serif" textLength="25.20" lengthAdjust="spacingAndGlyphs" >0.190</text>
<text x="497.20" y="354.40" font-size="16.6" fill="#111" font-weight="bold" text-anchor="middle" font-family="Liberation Sans, sans-serif" textLength="139.20" lengthAdjust="spacingAndGlyphs" >Pumping Energy (mJ)</text>
<text transform="translate(304.20,164.80) rotate(-90)" x="0" y="0" font-size="16" fill="#111" font-weight="bold" text-anchor="middle" font-family="Liberation Sans, sans-serif" textLength="152.00" lengthAdjust="spacingAndGlyphs">Peak Intensity (a.u.)</text>
<text transform="translate(684.60,165.80) rotate(-90)" x="0" y="0" font-size="15" fill="#111" font-weight="bold" text-anchor="middle" font-family="Liberation Sans, sans-serif" textLength="47.90" lengthAdjust="spacingAndGlyphs">FWHM</text>
<text x="377.00" y="50.80" font-size="22.6" fill="#111" font-weight="bold" text-anchor="middle" font-family="Liberation Sans, sans-serif" textLength="23.60" lengthAdjust="spacingAndGlyphs" >(b)</text>
<text x="414.20" y="61.90" font-size="23.5" fill="#1a1a2a" font-weight="normal" text-anchor="middle" font-family="Liberation Serif, serif" textLength="6.80" lengthAdjust="spacingAndGlyphs" >I</text>
<text x="503.60" y="63.10" font-size="23.5" fill="#1a1a2a" font-weight="normal" text-anchor="middle" font-family="Liberation Serif, serif" textLength="12.50" lengthAdjust="spacingAndGlyphs" >II</text>
<text x="598.40" y="63.10" font-size="23.5" fill="#1a1a2a" font-weight="normal" text-anchor="middle" font-family="Liberation Serif, serif" textLength="21.30" lengthAdjust="spacingAndGlyphs" >III</text>
<line x1="476.00" y1="415.00" x2="476.00" y2="699.30" stroke="#000" stroke-width="1.6" />
<line x1="563.60" y1="415.00" x2="563.60" y2="699.30" stroke="#000" stroke-width="1.6" />
<polyline points="358.40,680.60 378.40,680.30 428.30,679.70 473.30,584.80 565.70,573.20 628.30,417.60" fill="none" stroke="#4a4a4a" stroke-width="2.0" stroke-linejoin="round" />
<rect x="375.60" y="677.00" width="5.60" height="6.60" fill="#4a4a4a" stroke="none" stroke-width="1" />
<rect x="425.50" y="676.40" width="5.60" height="6.60" fill="#4a4a4a" stroke="none" stroke-width="1" />
<rect x="470.50" y="581.50" width="5.60" height="6.60" fill="#4a4a4a" stroke="none" stroke-width="1" />
<rect x="562.90" y="569.90" width="5.60" height="6.60" fill="#4a4a4a" stroke="none" stroke-width="1" />
<rect x="625.50" y="414.30" width="5.60" height="6.60" fill="#4a4a4a" stroke="none" stroke-width="1" />
<polyline points="358.40,447.00 378.00,447.00 428.30,456.50 473.10,625.00 565.70,652.00 627.60,662.00" fill="none" stroke="#ee3a3f" stroke-width="2.0" stroke-linejoin="round" />
<rect x="375.30" y="443.70" width="5.40" height="6.60" fill="#ee3a3f" stroke="none" stroke-width="1" />
<rect x="425.60" y="453.20" width="5.40" height="6.60" fill="#ee3a3f" stroke="none" stroke-width="1" />
<rect x="470.40" y="621.70" width="5.40" height="6.60" fill="#ee3a3f" stroke="none" stroke-width="1" />
<rect x="563.00" y="648.70" width="5.40" height="6.60" fill="#ee3a3f" stroke="none" stroke-width="1" />
<rect x="624.90" y="658.70" width="5.40" height="6.60" fill="#ee3a3f" stroke="none" stroke-width="1" />
<line x1="358.40" y1="413.50" x2="358.40" y2="699.30" stroke="#4a4a4a" stroke-width="3.0" />
<line x1="645.60" y1="413.50" x2="645.60" y2="700.80" stroke="#ee3a3f" stroke-width="2.6" />
<line x1="356.90" y1="415.00" x2="645.60" y2="415.00" stroke="#000" stroke-width="3.4" />
<line x1="356.90" y1="699.30" x2="646.90" y2="699.30" stroke="#000" stroke-width="3.4" />
<line x1="389.50" y1="699.30" x2="389.50" y2="705.30" stroke="#000" stroke-width="2.8" />
<line x1="424.77" y1="699.30" x2="424.77" y2="705.30" stroke="#000" stroke-width="2.8" />
<line x1="460.04" y1="699.30" x2="460.04" y2="705.30" stroke="#000" stroke-width="2.8" />
<line x1="495.31" y1="699.30" x2="495.31" y2="705.30" stroke="#000" stroke-width="2.8" />
<line x1="530.58" y1="699.30" x2="530.58" y2="705.30" stroke="#000" stroke-width="2.8" />
<line x1="565.85" y1="699.30" x2="565.85" y2="705.30" stroke="#000" stroke-width="2.8" />
<line x1="601.12" y1="699.30" x2="601.12" y2="705.30" stroke="#000" stroke-width="2.8" />
<line x1="636.39" y1="699.30" x2="636.39" y2="705.30" stroke="#000" stroke-width="2.8" />
<line x1="371.87" y1="699.30" x2="371.87" y2="702.60" stroke="#000" stroke-width="2.4" />
<line x1="407.13" y1="699.30" x2="407.13" y2="702.60" stroke="#000" stroke-width="2.4" />
<line x1="442.41" y1="699.30" x2="442.41" y2="702.60" stroke="#000" stroke-width="2.4" />
<line x1="477.68" y1="699.30" x2="477.68" y2="702.60" stroke="#000" stroke-width="2.4" />
<line x1="512.95" y1="699.30" x2="512.95" y2="702.60" stroke="#000" stroke-width="2.4" />
<line x1="548.22" y1="699.30" x2="548.22" y2="702.60" stroke="#000" stroke-width="2.4" />
<line x1="583.49" y1="699.30" x2="583.49" y2="702.60" stroke="#000" stroke-width="2.4" />
<line x1="618.75" y1="699.30" x2="618.75" y2="702.60" stroke="#000" stroke-width="2.4" />
<line x1="352.40" y1="664.18" x2="358.40" y2="664.18" stroke="#4a4a4a" stroke-width="2.8" />
<line x1="354.10" y1="684.60" x2="358.40" y2="684.60" stroke="#4a4a4a" stroke-width="2.6" />
<line x1="352.40" y1="623.35" x2="358.40" y2="623.35" stroke="#4a4a4a" stroke-width="2.8" />
<line x1="354.10" y1="643.76" x2="358.40" y2="643.76" stroke="#4a4a4a" stroke-width="2.6" />
<line x1="352.40" y1="582.52" x2="358.40" y2="582.52" stroke="#4a4a4a" stroke-width="2.8" />
<line x1="354.10" y1="602.93" x2="358.40" y2="602.93" stroke="#4a4a4a" stroke-width="2.6" />
<line x1="352.40" y1="541.69" x2="358.40" y2="541.69" stroke="#4a4a4a" stroke-width="2.8" />
<line x1="354.10" y1="562.11" x2="358.40" y2="562.11" stroke="#4a4a4a" stroke-width="2.6" />
<line x1="352.40" y1="500.86" x2="358.40" y2="500.86" stroke="#4a4a4a" stroke-width="2.8" />
<line x1="354.10" y1="521.27" x2="358.40" y2="521.27" stroke="#4a4a4a" stroke-width="2.6" />
<line x1="352.40" y1="460.03" x2="358.40" y2="460.03" stroke="#4a4a4a" stroke-width="2.8" />
<line x1="354.10" y1="480.44" x2="358.40" y2="480.44" stroke="#4a4a4a" stroke-width="2.6" />
<line x1="352.40" y1="419.20" x2="358.40" y2="419.20" stroke="#4a4a4a" stroke-width="2.8" />
<line x1="354.10" y1="439.62" x2="358.40" y2="439.62" stroke="#4a4a4a" stroke-width="2.6" />
<line x1="645.60" y1="415.10" x2="650.60" y2="415.10" stroke="#ee3a3f" stroke-width="2.8" />
<line x1="645.60" y1="458.50" x2="650.60" y2="458.50" stroke="#ee3a3f" stroke-width="2.8" />
<line x1="645.60" y1="501.90" x2="650.60" y2="501.90" stroke="#ee3a3f" stroke-width="2.8" />
<line x1="645.60" y1="545.30" x2="650.60" y2="545.30" stroke="#ee3a3f" stroke-width="2.8" />
<line x1="645.60" y1="588.70" x2="650.60" y2="588.70" stroke="#ee3a3f" stroke-width="2.8" />
<line x1="645.60" y1="632.10" x2="650.60" y2="632.10" stroke="#ee3a3f" stroke-width="2.8" />
<line x1="645.60" y1="675.50" x2="650.60" y2="675.50" stroke="#ee3a3f" stroke-width="2.8" />
<line x1="645.60" y1="436.80" x2="648.20" y2="436.80" stroke="#ee3a3f" stroke-width="2.4" />
<line x1="645.60" y1="480.20" x2="648.20" y2="480.20" stroke="#ee3a3f" stroke-width="2.4" />
<line x1="645.60" y1="523.60" x2="648.20" y2="523.60" stroke="#ee3a3f" stroke-width="2.4" />
<line x1="645.60" y1="567.00" x2="648.20" y2="567.00" stroke="#ee3a3f" stroke-width="2.4" />
<line x1="645.60" y1="610.40" x2="648.20" y2="610.40" stroke="#ee3a3f" stroke-width="2.4" />
<line x1="645.60" y1="653.80" x2="648.20" y2="653.80" stroke="#ee3a3f" stroke-width="2.4" />
<line x1="645.60" y1="692.86" x2="648.20" y2="692.86" stroke="#ee3a3f" stroke-width="2.4" />
<text x="350.00" y="668.08" font-size="12.3" fill="#555560" font-weight="bold" text-anchor="end" font-family="Liberation Sans, sans-serif" textLength="22.20" lengthAdjust="spacingAndGlyphs" >5000</text>
<text x="350.00" y="627.25" font-size="12.3" fill="#555560" font-weight="bold" text-anchor="end" font-family="Liberation Sans, sans-serif" textLength="27.70" lengthAdjust="spacingAndGlyphs" >10000</text>
<text x="350.00" y="586.42" font-size="12.3" fill="#555560" font-weight="bold" text-anchor="end" font-family="Liberation Sans, sans-serif" textLength="27.70" lengthAdjust="spacingAndGlyphs" >15000</text>
<text x="350.00" y="545.59" font-size="12.3" fill="#555560" font-weight="bold" text-anchor="end" font-family="Liberation Sans, sans-serif" textLength="27.70" lengthAdjust="spacingAndGlyphs" >20000</text>
<text x="350.00" y="504.76" font-size="12.3" fill="#555560" font-weight="bold" text-anchor="end" font-family="Liberation Sans, sans-serif" textLength="27.70" lengthAdjust="spacingAndGlyphs" >25000</text>
<text x="350.00" y="463.93" font-size="12.3" fill="#555560" font-weight="bold" text-anchor="end" font-family="Liberation Sans, sans-serif" textLength="27.70" lengthAdjust="spacingAndGlyphs" >30000</text>
<text x="350.00" y="423.10" font-size="12.3" fill="#555560" font-weight="bold" text-anchor="end" font-family="Liberation Sans, sans-serif" textLength="27.70" lengthAdjust="spacingAndGlyphs" >35000</text>
<text x="653.10" y="420.40" font-size="17" fill="#ee3a3f" font-weight="normal" text-anchor="start" font-family="Liberation Sans, sans-serif" textLength="14.00" lengthAdjust="spacingAndGlyphs" stroke="#ee3a3f" stroke-width="0.5">22</text>
<text x="653.10" y="463.80" font-size="17" fill="#ee3a3f" font-weight="normal" text-anchor="start" font-family="Liberation Sans, sans-serif" textLength="14.00" lengthAdjust="spacingAndGlyphs" stroke="#ee3a3f" stroke-width="0.5">20</text>
<text x="653.10" y="507.20" font-size="17" fill="#ee3a3f" font-weight="normal" text-anchor="start" font-family="Liberation Sans, sans-serif" textLength="14.00" lengthAdjust="spacingAndGlyphs" stroke="#ee3a3f" stroke-width="0.5">18</text>
<text x="653.10" y="550.60" font-size="17" fill="#ee3a3f" font-weight="normal" text-anchor="start" font-family="Liberation Sans, sans-serif" textLength="14.00" lengthAdjust="spacingAndGlyphs" stroke="#ee3a3f" stroke-width="0.5">16</text>
<text x="653.10" y="594.00" font-size="17" fill="#ee3a3f" font-weight="normal" text-anchor="start" font-family="Liberation Sans, sans-serif" textLength="14.00" lengthAdjust="spacingAndGlyphs" stroke="#ee3a3f" stroke-width="0.5">14</text>
<text x="653.10" y="637.40" font-size="17" fill="#ee3a3f" font-weight="normal" text-anchor="start" font-family="Liberation Sans, sans-serif" textLength="14.00" lengthAdjust="spacingAndGlyphs" stroke="#ee3a3f" stroke-width="0.5">12</text>
<text x="653.10" y="680.80" font-size="17" fill="#ee3a3f" font-weight="normal" text-anchor="start" font-family="Liberation Sans, sans-serif" textLength="14.00" lengthAdjust="spacingAndGlyphs" stroke="#ee3a3f" stroke-width="0.5">10</text>
<text x="389.50" y="717.60" font-size="12" fill="#333340" font-weight="bold" text-anchor="middle" font-family="Liberation Sans, sans-serif" textLength="25.20" lengthAdjust="spacingAndGlyphs" >0.038</text>
<text x="424.77" y="717.60" font-size="12" fill="#333340" font-weight="bold" text-anchor="middle" font-family="Liberation Sans, sans-serif" textLength="25.20" lengthAdjust="spacingAndGlyphs" >0.057</text>
<text x="460.04" y="717.60" font-size="12" fill="#333340" font-weight="bold" text-anchor="middle" font-family="Liberation Sans, sans-serif" textLength="25.20" lengthAdjust="spacingAndGlyphs" >0.076</text>
<text x="495.31" y="717.60" font-size="12" fill="#333340" font-weight="bold" text-anchor="middle" font-family="Liberation Sans, sans-serif" textLength="25.20" lengthAdjust="spacingAndGlyphs" >0.095</text>
<text x="530.58" y="717.60" font-size="12" fill="#333340" font-weight="bold" text-anchor="middle" font-family="Liberation Sans, sans-serif" textLength="25.20" lengthAdjust="spacingAndGlyphs" >0.114</text>
<text x="565.85" y="717.60" font-size="12" fill="#333340" font-weight="bold" text-anchor="middle" font-family="Liberation Sans, sans-serif" textLength="25.20" lengthAdjust="spacingAndGlyphs" >0.133</text>
<text x="601.12" y="717.60" font-size="12" fill="#333340" font-weight="bold" text-anchor="middle" font-family="Liberation Sans, sans-serif" textLength="25.20" lengthAdjust="spacingAndGlyphs" >0.152</text>
<text x="636.39" y="717.60" font-size="12" fill="#333340" font-weight="bold" text-anchor="middle" font-family="Liberation Sans, sans-serif" textLength="25.20" lengthAdjust="spacingAndGlyphs" >0.171</text>
<text x="501.45" y="740.80" font-size="15" fill="#111" font-weight="bold" text-anchor="middle" font-family="Liberation Sans, sans-serif" textLength="124.10" lengthAdjust="spacingAndGlyphs" >Pumping Energy (mJ)</text>
<text transform="translate(315.20,556.90) rotate(-90)" x="0" y="0" font-size="16.5" fill="#111" font-weight="bold" text-anchor="middle" font-family="Liberation Sans, sans-serif" textLength="159.90" lengthAdjust="spacingAndGlyphs">Peak Intensity (a.u.)</text>
<text transform="translate(684.80,556.70) rotate(-90)" x="0" y="0" font-size="14" fill="#111" font-weight="bold" text-anchor="middle" font-family="Liberation Sans, sans-serif" textLength="55.00" lengthAdjust="spacingAndGlyphs">FWHM</text>
<text x="393.30" y="437.60" font-size="21" fill="#111" font-weight="normal" text-anchor="middle" font-family="Liberation Sans, sans-serif" textLength="21.90" lengthAdjust="spacingAndGlyphs" stroke="#111" stroke-width="0.7">(d)</text>
<text x="407.00" y="484.90" font-size="27" fill="#1a1a2a" font-weight="normal" text-anchor="middle" font-family="Liberation Serif, serif" textLength="7.60" lengthAdjust="spacingAndGlyphs" >I</text>
<text x="504.60" y="488.90" font-size="27" fill="#1a1a2a" font-weight="normal" text-anchor="middle" font-family="Liberation Serif, serif" textLength="14.10" lengthAdjust="spacingAndGlyphs" >II</text>
<text x="605.90" y="488.90" font-size="27" fill="#1a1a2a" font-weight="normal" text-anchor="middle" font-family="Liberation Serif, serif" textLength="22.00" lengthAdjust="spacingAndGlyphs" >III</text>
</svg>
</body></html>
